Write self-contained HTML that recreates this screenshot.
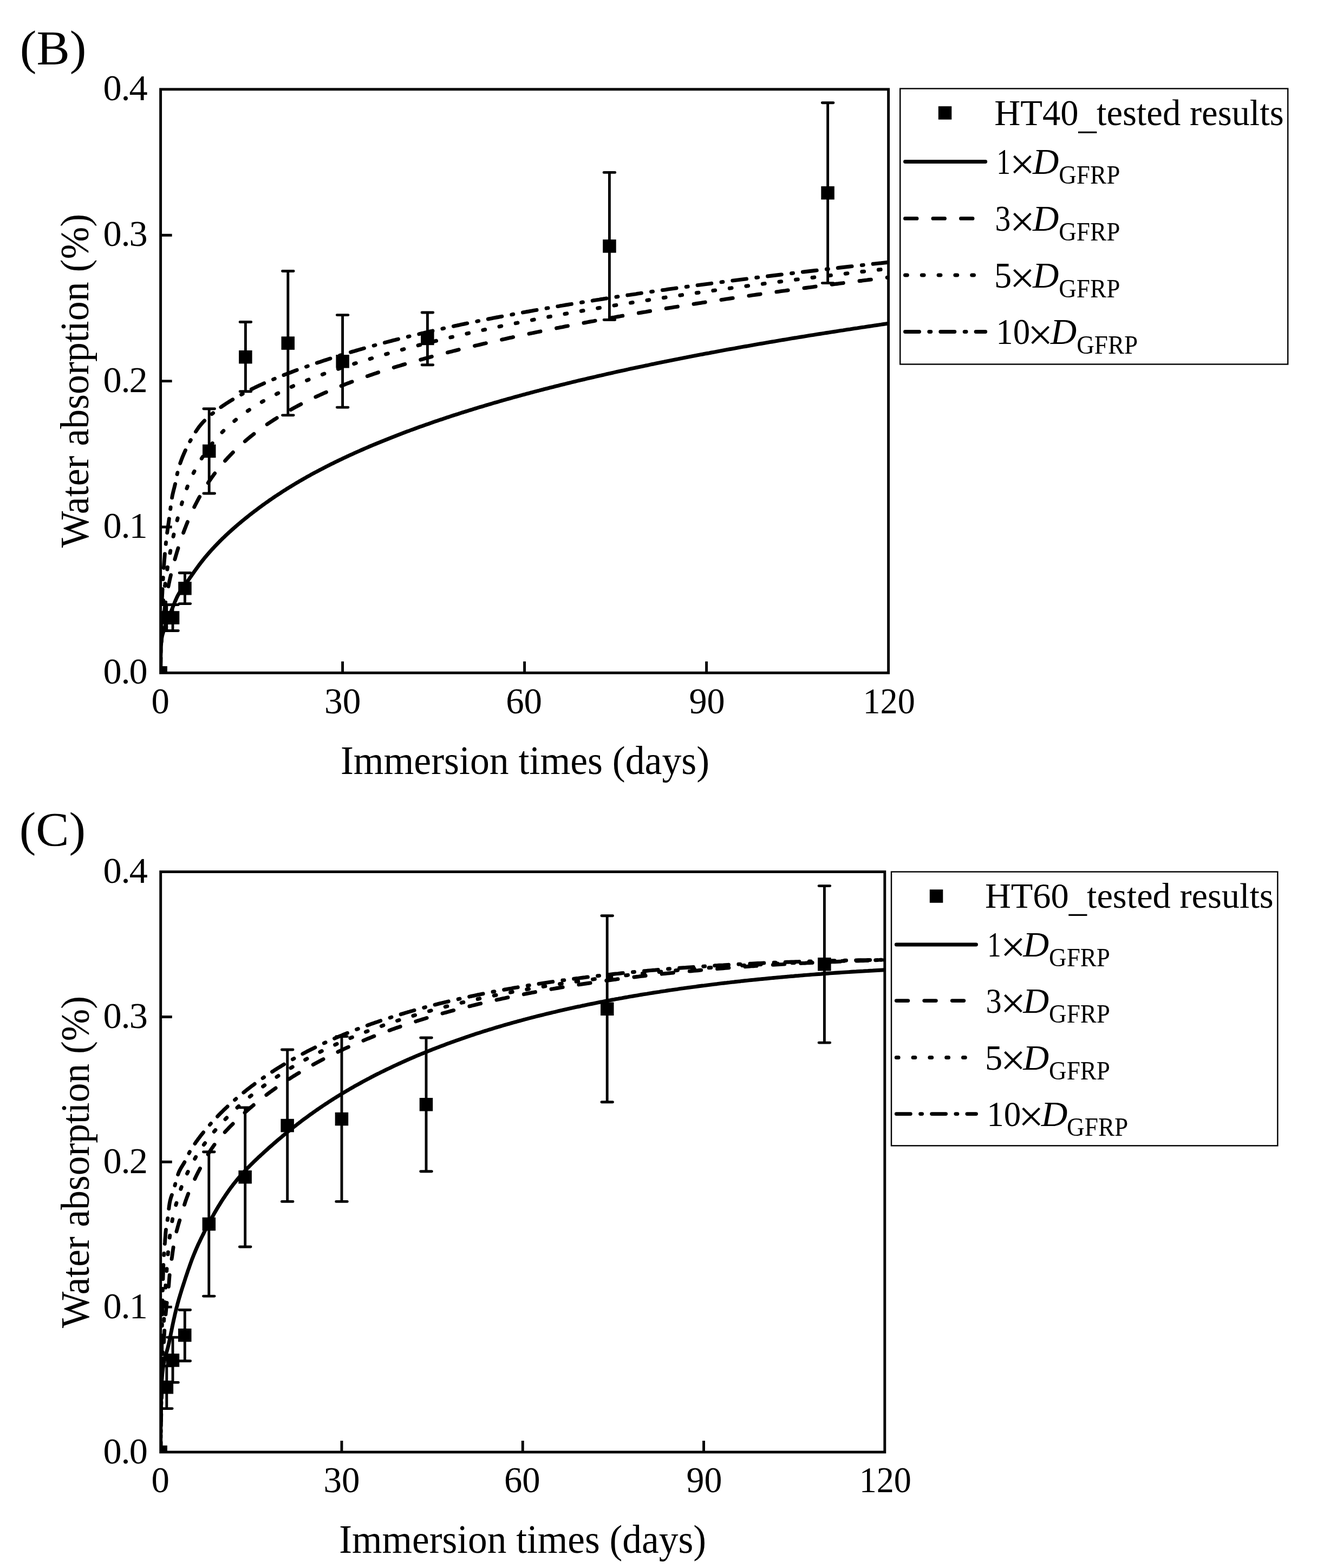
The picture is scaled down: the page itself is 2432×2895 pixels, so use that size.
<!DOCTYPE html>
<html lang="en"><head><meta charset="utf-8"><title>Water absorption vs immersion time</title>
<style>
html,body{margin:0;padding:0;background:#fff;}
body{width:2432px;height:2895px;overflow:hidden;}
svg{display:block;}
svg text{font-family:'Liberation Serif', 'DejaVu Serif', serif;fill:#000;white-space:pre;}
</style></head><body>
<svg width="2432" height="2895" viewBox="0 0 2432 2895">
<rect width="2432" height="2895" fill="#fff"/>
<g id="chartB">
<clipPath id="clipB"><rect x="296.60" y="164.90" width="1344.00" height="1077.40"/></clipPath>
<g clip-path="url(#clipB)" fill="none" stroke="#000" stroke-linecap="round" stroke-linejoin="round">
<path d="M296.6,1242.4 L296.6,1238.3 L296.6,1234.3 L296.6,1230.4 L296.7,1226.5 L296.7,1222.7 L296.7,1219.1 L296.8,1215.6 L296.8,1212.1 L296.9,1208.9 L297.0,1205.7 L297.1,1202.7 L297.1,1199.9 L297.2,1197.2 L297.3,1194.7 L297.4,1192.3 L297.6,1190.1 L297.7,1188.1 L297.8,1186.2 L298.0,1184.5 L298.1,1182.9 L298.3,1181.4 L298.4,1180.0 L298.6,1178.8 L298.8,1177.6 L298.9,1176.6 L299.1,1175.6 L299.3,1174.7 L299.5,1173.9 L299.8,1173.0 L300.0,1172.2 L300.2,1171.4 L300.4,1170.6 L300.7,1169.8 L300.9,1169.0 L301.2,1168.1 L301.5,1167.2 L301.7,1166.3 L302.0,1165.3 L302.3,1164.4 L302.6,1163.4 L302.9,1162.4 L303.2,1161.4 L303.5,1160.4 L303.9,1159.4 L304.2,1158.4 L304.5,1157.4 L304.9,1156.4 L305.2,1155.4 L305.6,1154.4 L306.0,1153.4 L306.3,1152.4 L306.7,1151.4 L307.1,1150.4 L307.5,1149.4 L307.9,1148.3 L308.3,1147.3 L308.8,1146.2 L309.2,1145.2 L309.6,1144.1 L310.1,1143.0 L310.5,1141.9 L311.0,1140.8 L311.5,1139.7 L311.9,1138.5 L312.4,1137.3 L312.9,1136.2 L313.4,1135.0 L313.9,1133.7 L314.4,1132.5 L315.0,1131.2 L315.5,1129.9 L316.0,1128.6 L316.6,1127.3 L317.1,1125.9 L317.7,1124.5 L318.2,1123.1 L318.8,1121.7 L319.4,1120.2 L320.0,1118.7 L320.6,1117.2 L321.2,1115.7 L321.8,1114.2 L322.4,1112.7 L323.0,1111.1 L323.7,1109.6 L324.3,1108.1 L325.0,1106.7 L325.6,1105.2 L326.3,1103.8 L326.9,1102.4 L327.6,1101.0 L328.3,1099.7 L329.0,1098.4 L329.7,1097.1 L330.4,1095.9 L331.1,1094.7 L331.8,1093.6 L332.6,1092.4 L333.3,1091.3 L334.1,1090.2 L334.8,1089.1 L335.6,1088.1 L336.3,1087.0 L337.1,1085.9 L337.9,1084.9 L338.7,1083.8 L339.5,1082.7 L340.3,1081.6 L341.1,1080.5 L341.9,1079.4 L342.8,1078.2 L343.6,1077.1 L344.4,1075.9 L345.3,1074.7 L346.1,1073.5 L347.0,1072.3 L347.9,1071.0 L348.8,1069.8 L349.6,1068.5 L350.5,1067.2 L351.4,1065.9 L352.4,1064.6 L353.3,1063.3 L354.2,1062.0 L355.1,1060.6 L356.1,1059.3 L357.0,1057.9 L358.0,1056.6 L358.9,1055.2 L359.9,1053.8 L360.9,1052.5 L361.9,1051.1 L362.9,1049.7 L363.9,1048.3 L364.9,1047.0 L365.9,1045.6 L366.9,1044.2 L367.9,1042.8 L369.0,1041.5 L370.0,1040.1 L371.1,1038.7 L372.1,1037.4 L373.2,1036.0 L374.3,1034.6 L375.4,1033.3 L376.4,1031.9 L377.5,1030.6 L378.6,1029.2 L379.8,1027.9 L380.9,1026.6 L382.0,1025.2 L383.1,1023.9 L384.3,1022.6 L385.4,1021.3 L386.6,1019.9 L387.8,1018.6 L388.9,1017.3 L390.1,1016.0 L391.3,1014.7 L392.5,1013.4 L393.7,1012.1 L394.9,1010.8 L396.1,1009.5 L397.3,1008.2 L398.6,1006.9 L399.8,1005.6 L401.1,1004.3 L402.3,1003.0 L403.6,1001.7 L404.9,1000.4 L406.1,999.1 L407.4,997.9 L408.7,996.6 L410.0,995.3 L411.3,994.0 L412.6,992.8 L414.0,991.5 L415.3,990.2 L416.6,988.9 L418.0,987.7 L419.3,986.4 L420.7,985.2 L422.0,983.9 L423.4,982.6 L424.8,981.4 L426.2,980.1 L427.6,978.9 L429.0,977.6 L430.4,976.4 L431.8,975.1 L433.3,973.9 L434.7,972.6 L436.1,971.4 L437.6,970.1 L439.0,968.9 L440.5,967.6 L442.0,966.4 L443.5,965.2 L444.9,963.9 L446.4,962.7 L447.9,961.4 L449.4,960.2 L451.0,959.0 L452.5,957.7 L454.0,956.5 L455.6,955.2 L457.1,954.0 L458.7,952.8 L460.2,951.5 L461.8,950.3 L463.4,949.1 L465.0,947.8 L466.5,946.6 L468.1,945.4 L469.8,944.1 L471.4,942.9 L473.0,941.7 L474.6,940.5 L476.3,939.2 L477.9,938.0 L479.5,936.8 L481.2,935.6 L482.9,934.4 L484.5,933.1 L486.2,931.9 L487.9,930.7 L489.6,929.5 L491.3,928.3 L493.0,927.1 L494.8,925.9 L496.5,924.6 L498.2,923.4 L500.0,922.2 L501.7,921.0 L503.5,919.8 L505.2,918.6 L507.0,917.4 L508.8,916.2 L510.6,915.0 L512.4,913.8 L514.2,912.7 L516.0,911.5 L517.8,910.3 L519.6,909.1 L521.4,907.9 L523.3,906.7 L525.1,905.5 L527.0,904.4 L528.8,903.2 L530.7,902.0 L532.6,900.8 L534.5,899.7 L536.4,898.5 L538.3,897.3 L540.2,896.2 L542.1,895.0 L544.0,893.9 L545.9,892.7 L547.9,891.5 L549.8,890.4 L551.8,889.2 L553.7,888.1 L555.7,887.0 L557.7,885.8 L559.6,884.7 L561.6,883.5 L563.6,882.4 L565.6,881.3 L567.7,880.1 L569.7,879.0 L571.7,877.9 L573.7,876.8 L575.8,875.6 L577.8,874.5 L579.9,873.4 L581.9,872.3 L584.0,871.2 L586.1,870.1 L588.2,869.0 L590.3,867.9 L592.4,866.8 L594.5,865.7 L596.6,864.6 L598.7,863.5 L600.9,862.4 L603.0,861.3 L605.1,860.2 L607.3,859.1 L609.5,858.0 L611.6,856.9 L613.8,855.9 L616.0,854.8 L618.2,853.7 L620.4,852.6 L622.6,851.5 L624.8,850.5 L627.0,849.4 L629.2,848.3 L631.5,847.3 L633.7,846.2 L636.0,845.2 L638.2,844.1 L640.5,843.0 L642.8,842.0 L645.1,840.9 L647.3,839.9 L649.6,838.8 L651.9,837.8 L654.3,836.7 L656.6,835.7 L658.9,834.6 L661.2,833.6 L663.6,832.6 L665.9,831.5 L668.3,830.5 L670.6,829.5 L673.0,828.4 L675.4,827.4 L677.8,826.4 L680.2,825.3 L682.6,824.3 L685.0,823.3 L687.4,822.3 L689.8,821.2 L692.3,820.2 L694.7,819.2 L697.1,818.2 L699.6,817.2 L702.1,816.2 L704.5,815.2 L707.0,814.2 L709.5,813.2 L712.0,812.2 L714.5,811.2 L717.0,810.2 L719.5,809.2 L722.0,808.2 L724.5,807.2 L727.1,806.2 L729.6,805.2 L732.2,804.2 L734.7,803.2 L737.3,802.2 L739.9,801.2 L742.4,800.3 L745.0,799.3 L747.6,798.3 L750.2,797.3 L752.8,796.3 L755.5,795.4 L758.1,794.4 L760.7,793.4 L763.4,792.5 L766.0,791.5 L768.7,790.5 L771.3,789.6 L774.0,788.6 L776.7,787.6 L779.4,786.7 L782.1,785.7 L784.8,784.8 L787.5,783.8 L790.2,782.9 L792.9,781.9 L795.6,781.0 L798.4,780.0 L801.1,779.1 L803.9,778.1 L806.6,777.2 L809.4,776.2 L812.2,775.3 L815.0,774.4 L817.8,773.4 L820.5,772.5 L823.4,771.6 L826.2,770.6 L829.0,769.7 L831.8,768.8 L834.7,767.8 L837.5,766.9 L840.3,766.0 L843.2,765.1 L846.1,764.2 L848.9,763.2 L851.8,762.3 L854.7,761.4 L857.6,760.5 L860.5,759.6 L863.4,758.7 L866.3,757.8 L869.3,756.9 L872.2,756.0 L875.1,755.0 L878.1,754.1 L881.0,753.2 L884.0,752.3 L887.0,751.4 L890.0,750.6 L892.9,749.7 L895.9,748.8 L898.9,747.9 L901.9,747.0 L905.0,746.1 L908.0,745.2 L911.0,744.3 L914.0,743.4 L917.1,742.6 L920.1,741.7 L923.2,740.8 L926.3,739.9 L929.3,739.0 L932.4,738.2 L935.5,737.3 L938.6,736.4 L941.7,735.6 L944.8,734.7 L948.0,733.8 L951.1,732.9 L954.2,732.1 L957.4,731.2 L960.5,730.4 L963.7,729.5 L966.8,728.6 L970.0,727.8 L973.2,726.9 L976.4,726.1 L979.6,725.2 L982.8,724.4 L986.0,723.5 L989.2,722.7 L992.4,721.8 L995.7,721.0 L998.9,720.1 L1002.1,719.3 L1005.4,718.4 L1008.7,717.6 L1011.9,716.8 L1015.2,715.9 L1018.5,715.1 L1021.8,714.3 L1025.1,713.4 L1028.4,712.6 L1031.7,711.8 L1035.0,710.9 L1038.4,710.1 L1041.7,709.3 L1045.0,708.5 L1048.4,707.6 L1051.8,706.8 L1055.1,706.0 L1058.5,705.2 L1061.9,704.4 L1065.3,703.5 L1068.7,702.7 L1072.1,701.9 L1075.5,701.1 L1078.9,700.3 L1082.3,699.5 L1085.8,698.7 L1089.2,697.9 L1092.7,697.1 L1096.1,696.3 L1099.6,695.5 L1103.1,694.6 L1106.5,693.8 L1110.0,693.1 L1113.5,692.3 L1117.0,691.5 L1120.5,690.7 L1124.0,689.9 L1127.6,689.1 L1131.1,688.3 L1134.6,687.5 L1138.2,686.7 L1141.7,685.9 L1145.3,685.1 L1148.9,684.3 L1152.5,683.6 L1156.0,682.8 L1159.6,682.0 L1163.2,681.2 L1166.8,680.4 L1170.5,679.7 L1174.1,678.9 L1177.7,678.1 L1181.3,677.3 L1185.0,676.6 L1188.6,675.8 L1192.3,675.0 L1196.0,674.3 L1199.6,673.5 L1203.3,672.7 L1207.0,672.0 L1210.7,671.2 L1214.4,670.4 L1218.1,669.7 L1221.8,668.9 L1225.6,668.2 L1229.3,667.4 L1233.1,666.6 L1236.8,665.9 L1240.6,665.1 L1244.3,664.4 L1248.1,663.6 L1251.9,662.9 L1255.7,662.1 L1259.5,661.4 L1263.3,660.6 L1267.1,659.9 L1270.9,659.1 L1274.7,658.4 L1278.5,657.7 L1282.4,656.9 L1286.2,656.2 L1290.1,655.4 L1293.9,654.7 L1297.8,654.0 L1301.7,653.2 L1305.6,652.5 L1309.5,651.8 L1313.4,651.0 L1317.3,650.3 L1321.2,649.6 L1325.1,648.8 L1329.0,648.1 L1333.0,647.4 L1336.9,646.7 L1340.9,645.9 L1344.8,645.2 L1348.8,644.5 L1352.8,643.8 L1356.8,643.1 L1360.7,642.3 L1364.7,641.6 L1368.7,640.9 L1372.8,640.2 L1376.8,639.5 L1380.8,638.8 L1384.8,638.1 L1388.9,637.3 L1392.9,636.6 L1397.0,635.9 L1401.0,635.2 L1405.1,634.5 L1409.2,633.8 L1413.3,633.1 L1417.4,632.4 L1421.5,631.7 L1425.6,631.0 L1429.7,630.3 L1433.8,629.6 L1438.0,628.9 L1442.1,628.2 L1446.2,627.5 L1450.4,626.8 L1454.6,626.1 L1458.7,625.4 L1462.9,624.7 L1467.1,624.0 L1471.3,623.4 L1475.5,622.7 L1479.7,622.0 L1483.9,621.3 L1488.1,620.6 L1492.4,619.9 L1496.6,619.2 L1500.8,618.6 L1505.1,617.9 L1509.3,617.2 L1513.6,616.5 L1517.9,615.8 L1522.2,615.2 L1526.5,614.5 L1530.8,613.8 L1535.1,613.1 L1539.4,612.5 L1543.7,611.8 L1548.0,611.1 L1552.3,610.4 L1556.7,609.8 L1561.0,609.1 L1565.4,608.4 L1569.8,607.8 L1574.1,607.1 L1578.5,606.4 L1582.9,605.8 L1587.3,605.1 L1591.7,604.4 L1596.1,603.8 L1600.5,603.1 L1604.9,602.5 L1609.4,601.8 L1613.8,601.1 L1618.3,600.5 L1622.7,599.8 L1627.2,599.2 L1631.6,598.5 L1636.1,597.9 L1640.6,597.2" stroke-width="6.9"/>
<path d="M296.6,1242.3 L296.6,1236.9 L296.6,1231.6 L296.6,1226.3 L296.7,1220.9 L296.7,1215.6 L296.7,1210.3 L296.8,1205.0 L296.8,1199.8 L296.9,1194.5 L297.0,1189.3 L297.1,1184.1 L297.1,1178.9 L297.2,1173.7 L297.3,1168.6 L297.4,1163.5 L297.6,1158.4 L297.7,1153.3 L297.8,1148.2 L298.0,1143.2 L298.1,1138.2 L298.3,1133.3 L298.4,1128.3 L298.6,1123.4 L298.8,1118.6 L298.9,1113.7 L299.1,1108.9 L299.3,1104.2 L299.5,1099.5 L299.8,1094.8 L300.0,1090.1 L300.2,1085.5 L300.4,1080.9 L300.7,1076.4 L300.9,1071.9 L301.2,1067.5 L301.5,1063.1 L301.7,1058.8 L302.0,1054.5 L302.3,1050.2 L302.6,1046.0 L302.9,1041.9 L303.2,1037.8 L303.5,1033.7 L303.9,1029.7 L304.2,1025.8 L304.5,1021.9 L304.9,1018.0 L305.2,1014.3 L305.6,1010.6 L306.0,1006.9 L306.3,1003.3 L306.7,999.8 L307.1,996.3 L307.5,992.9 L307.9,989.6 L308.3,986.3 L308.8,983.1 L309.2,979.9 L309.6,976.8 L310.1,973.7 L310.5,970.6 L311.0,967.4 L311.5,964.1 L311.9,960.7 L312.4,957.2 L312.9,953.5 L313.4,949.6 L313.9,945.6 L314.4,941.5 L315.0,937.4 L315.5,933.3 L316.0,929.3 L316.6,925.5 L317.1,921.9 L317.7,918.5 L318.2,915.5 L318.8,912.7 L319.4,910.1 L320.0,907.6 L320.6,905.2 L321.2,902.9 L321.8,900.6 L322.4,898.1 L323.0,895.6 L323.7,892.8 L324.3,889.9 L325.0,886.7 L325.6,883.3 L326.3,880.0 L326.9,876.6 L327.6,873.5 L328.3,870.5 L329.0,867.7 L329.7,865.1 L330.4,862.6 L331.1,860.3 L331.8,858.0 L332.6,855.8 L333.3,853.7 L334.1,851.6 L334.8,849.6 L335.6,847.5 L336.3,845.6 L337.1,843.6 L337.9,841.7 L338.7,839.8 L339.5,837.9 L340.3,836.1 L341.1,834.3 L341.9,832.5 L342.8,830.7 L343.6,829.0 L344.4,827.2 L345.3,825.5 L346.1,823.8 L347.0,822.1 L347.9,820.4 L348.8,818.8 L349.6,817.1 L350.5,815.5 L351.4,813.8 L352.4,812.2 L353.3,810.5 L354.2,808.9 L355.1,807.2 L356.1,805.6 L357.0,804.0 L358.0,802.4 L358.9,800.9 L359.9,799.3 L360.9,797.8 L361.9,796.3 L362.9,794.8 L363.9,793.3 L364.9,791.9 L365.9,790.5 L366.9,789.1 L367.9,787.7 L369.0,786.4 L370.0,785.1 L371.1,783.9 L372.1,782.6 L373.2,781.4 L374.3,780.2 L375.4,779.0 L376.4,777.9 L377.5,776.8 L378.6,775.7 L379.8,774.6 L380.9,773.5 L382.0,772.4 L383.1,771.4 L384.3,770.4 L385.4,769.3 L386.6,768.3 L387.8,767.3 L388.9,766.4 L390.1,765.4 L391.3,764.4 L392.5,763.4 L393.7,762.5 L394.9,761.5 L396.1,760.5 L397.3,759.6 L398.6,758.6 L399.8,757.7 L401.1,756.8 L402.3,755.8 L403.6,754.9 L404.9,754.0 L406.1,753.1 L407.4,752.1 L408.7,751.2 L410.0,750.3 L411.3,749.4 L412.6,748.5 L414.0,747.6 L415.3,746.7 L416.6,745.8 L418.0,744.9 L419.3,744.1 L420.7,743.2 L422.0,742.3 L423.4,741.4 L424.8,740.6 L426.2,739.7 L427.6,738.9 L429.0,738.0 L430.4,737.1 L431.8,736.3 L433.3,735.4 L434.7,734.6 L436.1,733.8 L437.6,732.9 L439.0,732.1 L440.5,731.3 L442.0,730.4 L443.5,729.6 L444.9,728.8 L446.4,728.0 L447.9,727.2 L449.4,726.3 L451.0,725.5 L452.5,724.7 L454.0,723.9 L455.6,723.1 L457.1,722.3 L458.7,721.5 L460.2,720.7 L461.8,719.9 L463.4,719.1 L465.0,718.4 L466.5,717.6 L468.1,716.8 L469.8,716.0 L471.4,715.2 L473.0,714.5 L474.6,713.7 L476.3,712.9 L477.9,712.2 L479.5,711.4 L481.2,710.6 L482.9,709.9 L484.5,709.1 L486.2,708.3 L487.9,707.6 L489.6,706.8 L491.3,706.1 L493.0,705.3 L494.8,704.6 L496.5,703.8 L498.2,703.1 L500.0,702.3 L501.7,701.6 L503.5,700.8 L505.2,700.1 L507.0,699.4 L508.8,698.6 L510.6,697.9 L512.4,697.1 L514.2,696.4 L516.0,695.7 L517.8,694.9 L519.6,694.2 L521.4,693.5 L523.3,692.8 L525.1,692.0 L527.0,691.3 L528.8,690.6 L530.7,689.8 L532.6,689.1 L534.5,688.4 L536.4,687.7 L538.3,687.0 L540.2,686.2 L542.1,685.5 L544.0,684.8 L545.9,684.1 L547.9,683.3 L549.8,682.6 L551.8,681.9 L553.7,681.2 L555.7,680.5 L557.7,679.8 L559.6,679.0 L561.6,678.3 L563.6,677.6 L565.6,676.9 L567.7,676.2 L569.7,675.5 L571.7,674.8 L573.7,674.0 L575.8,673.3 L577.8,672.6 L579.9,671.9 L581.9,671.2 L584.0,670.5 L586.1,669.8 L588.2,669.1 L590.3,668.4 L592.4,667.7 L594.5,667.0 L596.6,666.3 L598.7,665.6 L600.9,664.9 L603.0,664.2 L605.1,663.5 L607.3,662.8 L609.5,662.1 L611.6,661.4 L613.8,660.7 L616.0,660.0 L618.2,659.3 L620.4,658.6 L622.6,657.9 L624.8,657.2 L627.0,656.5 L629.2,655.8 L631.5,655.1 L633.7,654.4 L636.0,653.7 L638.2,653.1 L640.5,652.4 L642.8,651.7 L645.1,651.0 L647.3,650.3 L649.6,649.6 L651.9,648.9 L654.3,648.3 L656.6,647.6 L658.9,646.9 L661.2,646.2 L663.6,645.5 L665.9,644.9 L668.3,644.2 L670.6,643.5 L673.0,642.8 L675.4,642.2 L677.8,641.5 L680.2,640.8 L682.6,640.2 L685.0,639.5 L687.4,638.8 L689.8,638.1 L692.3,637.5 L694.7,636.8 L697.1,636.2 L699.6,635.5 L702.1,634.8 L704.5,634.2 L707.0,633.5 L709.5,632.8 L712.0,632.2 L714.5,631.5 L717.0,630.9 L719.5,630.2 L722.0,629.6 L724.5,628.9 L727.1,628.2 L729.6,627.6 L732.2,626.9 L734.7,626.3 L737.3,625.6 L739.9,625.0 L742.4,624.3 L745.0,623.7 L747.6,623.1 L750.2,622.4 L752.8,621.8 L755.5,621.1 L758.1,620.5 L760.7,619.8 L763.4,619.2 L766.0,618.6 L768.7,617.9 L771.3,617.3 L774.0,616.7 L776.7,616.0 L779.4,615.4 L782.1,614.8 L784.8,614.1 L787.5,613.5 L790.2,612.9 L792.9,612.2 L795.6,611.6 L798.4,611.0 L801.1,610.4 L803.9,609.7 L806.6,609.1 L809.4,608.5 L812.2,607.9 L815.0,607.2 L817.8,606.6 L820.5,606.0 L823.4,605.4 L826.2,604.8 L829.0,604.1 L831.8,603.5 L834.7,602.9 L837.5,602.3 L840.3,601.7 L843.2,601.1 L846.1,600.5 L848.9,599.9 L851.8,599.2 L854.7,598.6 L857.6,598.0 L860.5,597.4 L863.4,596.8 L866.3,596.2 L869.3,595.6 L872.2,595.0 L875.1,594.4 L878.1,593.8 L881.0,593.2 L884.0,592.6 L887.0,592.0 L890.0,591.4 L892.9,590.8 L895.9,590.2 L898.9,589.6 L901.9,589.0 L905.0,588.4 L908.0,587.8 L911.0,587.2 L914.0,586.6 L917.1,586.0 L920.1,585.5 L923.2,584.9 L926.3,584.3 L929.3,583.7 L932.4,583.1 L935.5,582.5 L938.6,581.9 L941.7,581.3 L944.8,580.8 L948.0,580.2 L951.1,579.6 L954.2,579.0 L957.4,578.4 L960.5,577.9 L963.7,577.3 L966.8,576.7 L970.0,576.1 L973.2,575.5 L976.4,575.0 L979.6,574.4 L982.8,573.8 L986.0,573.2 L989.2,572.7 L992.4,572.1 L995.7,571.5 L998.9,571.0 L1002.1,570.4 L1005.4,569.8 L1008.7,569.2 L1011.9,568.7 L1015.2,568.1 L1018.5,567.5 L1021.8,567.0 L1025.1,566.4 L1028.4,565.8 L1031.7,565.3 L1035.0,564.7 L1038.4,564.2 L1041.7,563.6 L1045.0,563.0 L1048.4,562.5 L1051.8,561.9 L1055.1,561.4 L1058.5,560.8 L1061.9,560.2 L1065.3,559.7 L1068.7,559.1 L1072.1,558.6 L1075.5,558.0 L1078.9,557.5 L1082.3,556.9 L1085.8,556.4 L1089.2,555.8 L1092.7,555.3 L1096.1,554.7 L1099.6,554.2 L1103.1,553.6 L1106.5,553.1 L1110.0,552.5 L1113.5,552.0 L1117.0,551.4 L1120.5,550.9 L1124.0,550.3 L1127.6,549.8 L1131.1,549.2 L1134.6,548.7 L1138.2,548.1 L1141.7,547.6 L1145.3,547.1 L1148.9,546.5 L1152.5,546.0 L1156.0,545.4 L1159.6,544.9 L1163.2,544.4 L1166.8,543.8 L1170.5,543.3 L1174.1,542.8 L1177.7,542.2 L1181.3,541.7 L1185.0,541.1 L1188.6,540.6 L1192.3,540.1 L1196.0,539.5 L1199.6,539.0 L1203.3,538.5 L1207.0,537.9 L1210.7,537.4 L1214.4,536.9 L1218.1,536.4 L1221.8,535.8 L1225.6,535.3 L1229.3,534.8 L1233.1,534.2 L1236.8,533.7 L1240.6,533.2 L1244.3,532.7 L1248.1,532.1 L1251.9,531.6 L1255.7,531.1 L1259.5,530.6 L1263.3,530.0 L1267.1,529.5 L1270.9,529.0 L1274.7,528.5 L1278.5,527.9 L1282.4,527.4 L1286.2,526.9 L1290.1,526.4 L1293.9,525.9 L1297.8,525.3 L1301.7,524.8 L1305.6,524.3 L1309.5,523.8 L1313.4,523.3 L1317.3,522.8 L1321.2,522.2 L1325.1,521.7 L1329.0,521.2 L1333.0,520.7 L1336.9,520.2 L1340.9,519.7 L1344.8,519.2 L1348.8,518.6 L1352.8,518.1 L1356.8,517.6 L1360.7,517.1 L1364.7,516.6 L1368.7,516.1 L1372.8,515.6 L1376.8,515.1 L1380.8,514.6 L1384.8,514.0 L1388.9,513.5 L1392.9,513.0 L1397.0,512.5 L1401.0,512.0 L1405.1,511.5 L1409.2,511.0 L1413.3,510.5 L1417.4,510.0 L1421.5,509.5 L1425.6,509.0 L1429.7,508.5 L1433.8,508.0 L1438.0,507.5 L1442.1,507.0 L1446.2,506.5 L1450.4,506.0 L1454.6,505.5 L1458.7,505.0 L1462.9,504.5 L1467.1,504.0 L1471.3,503.5 L1475.5,503.0 L1479.7,502.5 L1483.9,502.0 L1488.1,501.5 L1492.4,501.0 L1496.6,500.5 L1500.8,500.0 L1505.1,499.5 L1509.3,499.0 L1513.6,498.5 L1517.9,498.0 L1522.2,497.5 L1526.5,497.0 L1530.8,496.5 L1535.1,496.0 L1539.4,495.5 L1543.7,495.0 L1548.0,494.5 L1552.3,494.0 L1556.7,493.5 L1561.0,493.0 L1565.4,492.5 L1569.8,492.0 L1574.1,491.5 L1578.5,491.1 L1582.9,490.6 L1587.3,490.1 L1591.7,489.6 L1596.1,489.1 L1600.5,488.6 L1604.9,488.1 L1609.4,487.6 L1613.8,487.1 L1618.3,486.6 L1622.7,486.1 L1627.2,485.7 L1631.6,485.2 L1636.1,484.7 L1640.6,484.2" stroke-width="6.9" stroke-dasharray="26 18.3 3 18" stroke-dashoffset="2"/>
<path d="M296.6,1242.3 L296.6,1237.6 L296.6,1233.1 L296.6,1228.5 L296.7,1224.1 L296.7,1219.7 L296.7,1215.4 L296.8,1211.2 L296.8,1207.0 L296.9,1202.9 L297.0,1198.8 L297.1,1194.8 L297.1,1190.9 L297.2,1187.0 L297.3,1183.2 L297.4,1179.4 L297.6,1175.7 L297.7,1172.0 L297.8,1168.4 L298.0,1164.8 L298.1,1161.3 L298.3,1157.8 L298.4,1154.4 L298.6,1151.0 L298.8,1147.7 L298.9,1144.4 L299.1,1141.1 L299.3,1137.9 L299.5,1134.7 L299.8,1131.6 L300.0,1128.4 L300.2,1125.3 L300.4,1122.3 L300.7,1119.3 L300.9,1116.3 L301.2,1113.3 L301.5,1110.3 L301.7,1107.4 L302.0,1104.5 L302.3,1101.6 L302.6,1098.8 L302.9,1095.9 L303.2,1093.1 L303.5,1090.3 L303.9,1087.5 L304.2,1084.7 L304.5,1081.9 L304.9,1079.2 L305.2,1076.4 L305.6,1073.7 L306.0,1070.9 L306.3,1068.2 L306.7,1065.5 L307.1,1062.7 L307.5,1060.0 L307.9,1057.3 L308.3,1054.5 L308.8,1051.8 L309.2,1049.1 L309.6,1046.3 L310.1,1043.6 L310.5,1040.8 L311.0,1038.1 L311.5,1035.3 L311.9,1032.5 L312.4,1029.8 L312.9,1027.0 L313.4,1024.2 L313.9,1021.4 L314.4,1018.6 L315.0,1015.9 L315.5,1013.1 L316.0,1010.3 L316.6,1007.5 L317.1,1004.7 L317.7,1002.0 L318.2,999.2 L318.8,996.5 L319.4,993.7 L320.0,991.0 L320.6,988.3 L321.2,985.6 L321.8,982.9 L322.4,980.2 L323.0,977.5 L323.7,974.9 L324.3,972.2 L325.0,969.5 L325.6,966.9 L326.3,964.2 L326.9,961.6 L327.6,958.9 L328.3,956.3 L329.0,953.6 L329.7,951.0 L330.4,948.3 L331.1,945.7 L331.8,943.1 L332.6,940.4 L333.3,937.8 L334.1,935.2 L334.8,932.6 L335.6,930.0 L336.3,927.5 L337.1,924.9 L337.9,922.4 L338.7,919.9 L339.5,917.4 L340.3,914.9 L341.1,912.5 L341.9,910.0 L342.8,907.7 L343.6,905.3 L344.4,903.0 L345.3,900.7 L346.1,898.5 L347.0,896.3 L347.9,894.1 L348.8,892.0 L349.6,889.9 L350.5,887.8 L351.4,885.7 L352.4,883.7 L353.3,881.7 L354.2,879.7 L355.1,877.7 L356.1,875.8 L357.0,873.9 L358.0,872.0 L358.9,870.1 L359.9,868.2 L360.9,866.4 L361.9,864.5 L362.9,862.7 L363.9,860.9 L364.9,859.1 L365.9,857.3 L366.9,855.5 L367.9,853.8 L369.0,852.0 L370.0,850.3 L371.1,848.6 L372.1,846.9 L373.2,845.2 L374.3,843.5 L375.4,841.8 L376.4,840.1 L377.5,838.5 L378.6,836.8 L379.8,835.2 L380.9,833.5 L382.0,831.9 L383.1,830.3 L384.3,828.8 L385.4,827.2 L386.6,825.6 L387.8,824.1 L388.9,822.5 L390.1,821.0 L391.3,819.5 L392.5,818.0 L393.7,816.5 L394.9,815.0 L396.1,813.6 L397.3,812.1 L398.6,810.7 L399.8,809.3 L401.1,807.8 L402.3,806.4 L403.6,805.0 L404.9,803.7 L406.1,802.3 L407.4,800.9 L408.7,799.6 L410.0,798.2 L411.3,796.9 L412.6,795.6 L414.0,794.3 L415.3,793.0 L416.6,791.7 L418.0,790.4 L419.3,789.1 L420.7,787.9 L422.0,786.6 L423.4,785.4 L424.8,784.1 L426.2,782.9 L427.6,781.7 L429.0,780.5 L430.4,779.3 L431.8,778.1 L433.3,776.9 L434.7,775.7 L436.1,774.6 L437.6,773.4 L439.0,772.2 L440.5,771.1 L442.0,769.9 L443.5,768.8 L444.9,767.7 L446.4,766.6 L447.9,765.5 L449.4,764.4 L451.0,763.3 L452.5,762.2 L454.0,761.1 L455.6,760.0 L457.1,758.9 L458.7,757.8 L460.2,756.8 L461.8,755.7 L463.4,754.7 L465.0,753.6 L466.5,752.6 L468.1,751.6 L469.8,750.5 L471.4,749.5 L473.0,748.5 L474.6,747.5 L476.3,746.5 L477.9,745.5 L479.5,744.5 L481.2,743.5 L482.9,742.5 L484.5,741.5 L486.2,740.5 L487.9,739.6 L489.6,738.6 L491.3,737.6 L493.0,736.7 L494.8,735.7 L496.5,734.8 L498.2,733.8 L500.0,732.9 L501.7,732.0 L503.5,731.0 L505.2,730.1 L507.0,729.2 L508.8,728.3 L510.6,727.4 L512.4,726.5 L514.2,725.6 L516.0,724.7 L517.8,723.8 L519.6,722.9 L521.4,722.0 L523.3,721.1 L525.1,720.3 L527.0,719.4 L528.8,718.5 L530.7,717.6 L532.6,716.8 L534.5,715.9 L536.4,715.1 L538.3,714.2 L540.2,713.4 L542.1,712.5 L544.0,711.7 L545.9,710.9 L547.9,710.0 L549.8,709.2 L551.8,708.4 L553.7,707.5 L555.7,706.7 L557.7,705.9 L559.6,705.1 L561.6,704.3 L563.6,703.5 L565.6,702.7 L567.7,701.9 L569.7,701.1 L571.7,700.3 L573.7,699.5 L575.8,698.7 L577.8,697.9 L579.9,697.1 L581.9,696.3 L584.0,695.5 L586.1,694.7 L588.2,694.0 L590.3,693.2 L592.4,692.4 L594.5,691.6 L596.6,690.9 L598.7,690.1 L600.9,689.3 L603.0,688.6 L605.1,687.8 L607.3,687.1 L609.5,686.3 L611.6,685.5 L613.8,684.8 L616.0,684.0 L618.2,683.3 L620.4,682.5 L622.6,681.8 L624.8,681.0 L627.0,680.3 L629.2,679.6 L631.5,678.8 L633.7,678.1 L636.0,677.3 L638.2,676.6 L640.5,675.8 L642.8,675.1 L645.1,674.4 L647.3,673.6 L649.6,672.9 L651.9,672.2 L654.3,671.4 L656.6,670.7 L658.9,670.0 L661.2,669.2 L663.6,668.5 L665.9,667.8 L668.3,667.1 L670.6,666.3 L673.0,665.6 L675.4,664.9 L677.8,664.2 L680.2,663.4 L682.6,662.7 L685.0,662.0 L687.4,661.3 L689.8,660.5 L692.3,659.8 L694.7,659.1 L697.1,658.4 L699.6,657.7 L702.1,656.9 L704.5,656.2 L707.0,655.5 L709.5,654.8 L712.0,654.1 L714.5,653.4 L717.0,652.7 L719.5,651.9 L722.0,651.2 L724.5,650.5 L727.1,649.8 L729.6,649.1 L732.2,648.4 L734.7,647.7 L737.3,647.0 L739.9,646.3 L742.4,645.6 L745.0,644.9 L747.6,644.2 L750.2,643.5 L752.8,642.8 L755.5,642.1 L758.1,641.4 L760.7,640.7 L763.4,640.0 L766.0,639.3 L768.7,638.6 L771.3,637.9 L774.0,637.2 L776.7,636.5 L779.4,635.8 L782.1,635.2 L784.8,634.5 L787.5,633.8 L790.2,633.1 L792.9,632.4 L795.6,631.7 L798.4,631.0 L801.1,630.4 L803.9,629.7 L806.6,629.0 L809.4,628.3 L812.2,627.6 L815.0,627.0 L817.8,626.3 L820.5,625.6 L823.4,624.9 L826.2,624.3 L829.0,623.6 L831.8,622.9 L834.7,622.3 L837.5,621.6 L840.3,620.9 L843.2,620.3 L846.1,619.6 L848.9,618.9 L851.8,618.3 L854.7,617.6 L857.6,616.9 L860.5,616.3 L863.4,615.6 L866.3,615.0 L869.3,614.3 L872.2,613.7 L875.1,613.0 L878.1,612.3 L881.0,611.7 L884.0,611.0 L887.0,610.4 L890.0,609.7 L892.9,609.1 L895.9,608.5 L898.9,607.8 L901.9,607.2 L905.0,606.5 L908.0,605.9 L911.0,605.2 L914.0,604.6 L917.1,604.0 L920.1,603.3 L923.2,602.7 L926.3,602.0 L929.3,601.4 L932.4,600.8 L935.5,600.1 L938.6,599.5 L941.7,598.9 L944.8,598.2 L948.0,597.6 L951.1,597.0 L954.2,596.4 L957.4,595.7 L960.5,595.1 L963.7,594.5 L966.8,593.9 L970.0,593.2 L973.2,592.6 L976.4,592.0 L979.6,591.4 L982.8,590.8 L986.0,590.1 L989.2,589.5 L992.4,588.9 L995.7,588.3 L998.9,587.7 L1002.1,587.1 L1005.4,586.5 L1008.7,585.9 L1011.9,585.2 L1015.2,584.6 L1018.5,584.0 L1021.8,583.4 L1025.1,582.8 L1028.4,582.2 L1031.7,581.6 L1035.0,581.0 L1038.4,580.4 L1041.7,579.8 L1045.0,579.2 L1048.4,578.6 L1051.8,578.0 L1055.1,577.4 L1058.5,576.8 L1061.9,576.2 L1065.3,575.6 L1068.7,575.0 L1072.1,574.4 L1075.5,573.8 L1078.9,573.2 L1082.3,572.6 L1085.8,572.1 L1089.2,571.5 L1092.7,570.9 L1096.1,570.3 L1099.6,569.7 L1103.1,569.1 L1106.5,568.5 L1110.0,567.9 L1113.5,567.4 L1117.0,566.8 L1120.5,566.2 L1124.0,565.6 L1127.6,565.0 L1131.1,564.5 L1134.6,563.9 L1138.2,563.3 L1141.7,562.7 L1145.3,562.1 L1148.9,561.6 L1152.5,561.0 L1156.0,560.4 L1159.6,559.8 L1163.2,559.3 L1166.8,558.7 L1170.5,558.1 L1174.1,557.6 L1177.7,557.0 L1181.3,556.4 L1185.0,555.9 L1188.6,555.3 L1192.3,554.7 L1196.0,554.2 L1199.6,553.6 L1203.3,553.0 L1207.0,552.5 L1210.7,551.9 L1214.4,551.3 L1218.1,550.8 L1221.8,550.2 L1225.6,549.7 L1229.3,549.1 L1233.1,548.5 L1236.8,548.0 L1240.6,547.4 L1244.3,546.9 L1248.1,546.3 L1251.9,545.7 L1255.7,545.2 L1259.5,544.6 L1263.3,544.1 L1267.1,543.5 L1270.9,543.0 L1274.7,542.4 L1278.5,541.9 L1282.4,541.3 L1286.2,540.8 L1290.1,540.2 L1293.9,539.7 L1297.8,539.1 L1301.7,538.6 L1305.6,538.0 L1309.5,537.5 L1313.4,536.9 L1317.3,536.4 L1321.2,535.9 L1325.1,535.3 L1329.0,534.8 L1333.0,534.2 L1336.9,533.7 L1340.9,533.1 L1344.8,532.6 L1348.8,532.1 L1352.8,531.5 L1356.8,531.0 L1360.7,530.4 L1364.7,529.9 L1368.7,529.4 L1372.8,528.8 L1376.8,528.3 L1380.8,527.8 L1384.8,527.2 L1388.9,526.7 L1392.9,526.2 L1397.0,525.6 L1401.0,525.1 L1405.1,524.6 L1409.2,524.0 L1413.3,523.5 L1417.4,523.0 L1421.5,522.4 L1425.6,521.9 L1429.7,521.4 L1433.8,520.8 L1438.0,520.3 L1442.1,519.8 L1446.2,519.3 L1450.4,518.7 L1454.6,518.2 L1458.7,517.7 L1462.9,517.2 L1467.1,516.6 L1471.3,516.1 L1475.5,515.6 L1479.7,515.1 L1483.9,514.5 L1488.1,514.0 L1492.4,513.5 L1496.6,513.0 L1500.8,512.4 L1505.1,511.9 L1509.3,511.4 L1513.6,510.9 L1517.9,510.4 L1522.2,509.8 L1526.5,509.3 L1530.8,508.8 L1535.1,508.3 L1539.4,507.8 L1543.7,507.3 L1548.0,506.7 L1552.3,506.2 L1556.7,505.7 L1561.0,505.2 L1565.4,504.7 L1569.8,504.2 L1574.1,503.6 L1578.5,503.1 L1582.9,502.6 L1587.3,502.1 L1591.7,501.6 L1596.1,501.1 L1600.5,500.6 L1604.9,500.1 L1609.4,499.5 L1613.8,499.0 L1618.3,498.5 L1622.7,498.0 L1627.2,497.5 L1631.6,497.0 L1636.1,496.5 L1640.6,496.0" stroke-width="7.0" stroke-dasharray="3.8 27" stroke-dashoffset="-7"/>
<path d="M296.6,1242.3 L296.6,1239.4 L296.6,1236.5 L296.6,1233.6 L296.7,1230.7 L296.7,1227.9 L296.7,1225.0 L296.8,1222.2 L296.8,1219.4 L296.9,1216.5 L297.0,1213.7 L297.1,1211.0 L297.1,1208.2 L297.2,1205.4 L297.3,1202.7 L297.4,1200.0 L297.6,1197.2 L297.7,1194.5 L297.8,1191.8 L298.0,1189.1 L298.1,1186.5 L298.3,1183.8 L298.4,1181.1 L298.6,1178.5 L298.8,1175.9 L298.9,1173.2 L299.1,1170.6 L299.3,1168.0 L299.5,1165.4 L299.8,1162.8 L300.0,1160.3 L300.2,1157.7 L300.4,1155.2 L300.7,1152.6 L300.9,1150.1 L301.2,1147.6 L301.5,1145.0 L301.7,1142.5 L302.0,1140.0 L302.3,1137.5 L302.6,1135.1 L302.9,1132.6 L303.2,1130.1 L303.5,1127.7 L303.9,1125.2 L304.2,1122.8 L304.5,1120.3 L304.9,1117.9 L305.2,1115.5 L305.6,1113.1 L306.0,1110.7 L306.3,1108.3 L306.7,1105.9 L307.1,1103.5 L307.5,1101.1 L307.9,1098.7 L308.3,1096.4 L308.8,1094.0 L309.2,1091.7 L309.6,1089.3 L310.1,1087.0 L310.5,1084.6 L311.0,1082.3 L311.5,1080.0 L311.9,1077.7 L312.4,1075.4 L312.9,1073.0 L313.4,1070.7 L313.9,1068.4 L314.4,1066.1 L315.0,1063.8 L315.5,1061.6 L316.0,1059.3 L316.6,1057.0 L317.1,1054.7 L317.7,1052.4 L318.2,1050.2 L318.8,1047.9 L319.4,1045.6 L320.0,1043.4 L320.6,1041.1 L321.2,1038.9 L321.8,1036.6 L322.4,1034.4 L323.0,1032.1 L323.7,1029.9 L324.3,1027.6 L325.0,1025.4 L325.6,1023.2 L326.3,1020.9 L326.9,1018.7 L327.6,1016.5 L328.3,1014.2 L329.0,1012.0 L329.7,1009.8 L330.4,1007.6 L331.1,1005.4 L331.8,1003.2 L332.6,1001.0 L333.3,998.8 L334.1,996.6 L334.8,994.4 L335.6,992.2 L336.3,990.0 L337.1,987.8 L337.9,985.7 L338.7,983.5 L339.5,981.3 L340.3,979.2 L341.1,977.0 L341.9,974.9 L342.8,972.8 L343.6,970.6 L344.4,968.5 L345.3,966.4 L346.1,964.3 L347.0,962.2 L347.9,960.1 L348.8,958.0 L349.6,956.0 L350.5,953.9 L351.4,951.8 L352.4,949.8 L353.3,947.8 L354.2,945.7 L355.1,943.7 L356.1,941.7 L357.0,939.7 L358.0,937.7 L358.9,935.8 L359.9,933.8 L360.9,931.8 L361.9,929.9 L362.9,928.0 L363.9,926.0 L364.9,924.1 L365.9,922.2 L366.9,920.3 L367.9,918.5 L369.0,916.6 L370.0,914.7 L371.1,912.9 L372.1,911.0 L373.2,909.2 L374.3,907.4 L375.4,905.6 L376.4,903.8 L377.5,902.0 L378.6,900.2 L379.8,898.5 L380.9,896.7 L382.0,894.9 L383.1,893.2 L384.3,891.5 L385.4,889.8 L386.6,888.1 L387.8,886.3 L388.9,884.7 L390.1,883.0 L391.3,881.3 L392.5,879.6 L393.7,878.0 L394.9,876.3 L396.1,874.7 L397.3,873.1 L398.6,871.5 L399.8,869.8 L401.1,868.2 L402.3,866.7 L403.6,865.1 L404.9,863.5 L406.1,861.9 L407.4,860.4 L408.7,858.8 L410.0,857.3 L411.3,855.7 L412.6,854.2 L414.0,852.7 L415.3,851.2 L416.6,849.7 L418.0,848.2 L419.3,846.7 L420.7,845.2 L422.0,843.8 L423.4,842.3 L424.8,840.9 L426.2,839.4 L427.6,838.0 L429.0,836.5 L430.4,835.1 L431.8,833.7 L433.3,832.3 L434.7,830.9 L436.1,829.5 L437.6,828.1 L439.0,826.7 L440.5,825.4 L442.0,824.0 L443.5,822.6 L444.9,821.3 L446.4,819.9 L447.9,818.6 L449.4,817.3 L451.0,815.9 L452.5,814.6 L454.0,813.3 L455.6,812.0 L457.1,810.7 L458.7,809.4 L460.2,808.1 L461.8,806.8 L463.4,805.5 L465.0,804.3 L466.5,803.0 L468.1,801.8 L469.8,800.5 L471.4,799.3 L473.0,798.0 L474.6,796.8 L476.3,795.6 L477.9,794.3 L479.5,793.1 L481.2,791.9 L482.9,790.7 L484.5,789.5 L486.2,788.3 L487.9,787.1 L489.6,785.9 L491.3,784.7 L493.0,783.6 L494.8,782.4 L496.5,781.2 L498.2,780.1 L500.0,778.9 L501.7,777.8 L503.5,776.6 L505.2,775.5 L507.0,774.3 L508.8,773.2 L510.6,772.1 L512.4,770.9 L514.2,769.8 L516.0,768.7 L517.8,767.6 L519.6,766.5 L521.4,765.4 L523.3,764.3 L525.1,763.2 L527.0,762.1 L528.8,761.0 L530.7,760.0 L532.6,758.9 L534.5,757.8 L536.4,756.7 L538.3,755.7 L540.2,754.6 L542.1,753.6 L544.0,752.5 L545.9,751.5 L547.9,750.4 L549.8,749.4 L551.8,748.4 L553.7,747.3 L555.7,746.3 L557.7,745.3 L559.6,744.3 L561.6,743.3 L563.6,742.3 L565.6,741.3 L567.7,740.3 L569.7,739.3 L571.7,738.3 L573.7,737.3 L575.8,736.3 L577.8,735.3 L579.9,734.3 L581.9,733.4 L584.0,732.4 L586.1,731.4 L588.2,730.5 L590.3,729.5 L592.4,728.5 L594.5,727.6 L596.6,726.6 L598.7,725.7 L600.9,724.8 L603.0,723.8 L605.1,722.9 L607.3,722.0 L609.5,721.0 L611.6,720.1 L613.8,719.2 L616.0,718.3 L618.2,717.4 L620.4,716.5 L622.6,715.5 L624.8,714.6 L627.0,713.7 L629.2,712.8 L631.5,712.0 L633.7,711.1 L636.0,710.2 L638.2,709.3 L640.5,708.4 L642.8,707.5 L645.1,706.7 L647.3,705.8 L649.6,704.9 L651.9,704.1 L654.3,703.2 L656.6,702.3 L658.9,701.5 L661.2,700.6 L663.6,699.8 L665.9,698.9 L668.3,698.1 L670.6,697.2 L673.0,696.4 L675.4,695.6 L677.8,694.7 L680.2,693.9 L682.6,693.1 L685.0,692.2 L687.4,691.4 L689.8,690.6 L692.3,689.8 L694.7,689.0 L697.1,688.1 L699.6,687.3 L702.1,686.5 L704.5,685.7 L707.0,684.9 L709.5,684.1 L712.0,683.3 L714.5,682.5 L717.0,681.7 L719.5,680.9 L722.0,680.1 L724.5,679.4 L727.1,678.6 L729.6,677.8 L732.2,677.0 L734.7,676.2 L737.3,675.5 L739.9,674.7 L742.4,673.9 L745.0,673.1 L747.6,672.4 L750.2,671.6 L752.8,670.8 L755.5,670.1 L758.1,669.3 L760.7,668.6 L763.4,667.8 L766.0,667.1 L768.7,666.3 L771.3,665.6 L774.0,664.8 L776.7,664.1 L779.4,663.3 L782.1,662.6 L784.8,661.8 L787.5,661.1 L790.2,660.4 L792.9,659.6 L795.6,658.9 L798.4,658.1 L801.1,657.4 L803.9,656.7 L806.6,656.0 L809.4,655.2 L812.2,654.5 L815.0,653.8 L817.8,653.1 L820.5,652.3 L823.4,651.6 L826.2,650.9 L829.0,650.2 L831.8,649.5 L834.7,648.8 L837.5,648.0 L840.3,647.3 L843.2,646.6 L846.1,645.9 L848.9,645.2 L851.8,644.5 L854.7,643.8 L857.6,643.1 L860.5,642.4 L863.4,641.7 L866.3,641.0 L869.3,640.3 L872.2,639.6 L875.1,638.9 L878.1,638.2 L881.0,637.5 L884.0,636.8 L887.0,636.1 L890.0,635.4 L892.9,634.7 L895.9,634.0 L898.9,633.3 L901.9,632.6 L905.0,631.9 L908.0,631.3 L911.0,630.6 L914.0,629.9 L917.1,629.2 L920.1,628.5 L923.2,627.8 L926.3,627.1 L929.3,626.5 L932.4,625.8 L935.5,625.1 L938.6,624.4 L941.7,623.7 L944.8,623.1 L948.0,622.4 L951.1,621.7 L954.2,621.0 L957.4,620.4 L960.5,619.7 L963.7,619.0 L966.8,618.3 L970.0,617.7 L973.2,617.0 L976.4,616.3 L979.6,615.7 L982.8,615.0 L986.0,614.3 L989.2,613.7 L992.4,613.0 L995.7,612.3 L998.9,611.7 L1002.1,611.0 L1005.4,610.3 L1008.7,609.7 L1011.9,609.0 L1015.2,608.3 L1018.5,607.7 L1021.8,607.0 L1025.1,606.4 L1028.4,605.7 L1031.7,605.1 L1035.0,604.4 L1038.4,603.8 L1041.7,603.1 L1045.0,602.4 L1048.4,601.8 L1051.8,601.1 L1055.1,600.5 L1058.5,599.8 L1061.9,599.2 L1065.3,598.5 L1068.7,597.9 L1072.1,597.3 L1075.5,596.6 L1078.9,596.0 L1082.3,595.3 L1085.8,594.7 L1089.2,594.0 L1092.7,593.4 L1096.1,592.8 L1099.6,592.1 L1103.1,591.5 L1106.5,590.8 L1110.0,590.2 L1113.5,589.6 L1117.0,588.9 L1120.5,588.3 L1124.0,587.7 L1127.6,587.0 L1131.1,586.4 L1134.6,585.8 L1138.2,585.1 L1141.7,584.5 L1145.3,583.9 L1148.9,583.2 L1152.5,582.6 L1156.0,582.0 L1159.6,581.4 L1163.2,580.7 L1166.8,580.1 L1170.5,579.5 L1174.1,578.9 L1177.7,578.2 L1181.3,577.6 L1185.0,577.0 L1188.6,576.4 L1192.3,575.8 L1196.0,575.1 L1199.6,574.5 L1203.3,573.9 L1207.0,573.3 L1210.7,572.7 L1214.4,572.1 L1218.1,571.5 L1221.8,570.8 L1225.6,570.2 L1229.3,569.6 L1233.1,569.0 L1236.8,568.4 L1240.6,567.8 L1244.3,567.2 L1248.1,566.6 L1251.9,566.0 L1255.7,565.4 L1259.5,564.8 L1263.3,564.1 L1267.1,563.5 L1270.9,562.9 L1274.7,562.3 L1278.5,561.7 L1282.4,561.1 L1286.2,560.5 L1290.1,559.9 L1293.9,559.3 L1297.8,558.7 L1301.7,558.1 L1305.6,557.5 L1309.5,557.0 L1313.4,556.4 L1317.3,555.8 L1321.2,555.2 L1325.1,554.6 L1329.0,554.0 L1333.0,553.4 L1336.9,552.8 L1340.9,552.2 L1344.8,551.6 L1348.8,551.0 L1352.8,550.4 L1356.8,549.9 L1360.7,549.3 L1364.7,548.7 L1368.7,548.1 L1372.8,547.5 L1376.8,546.9 L1380.8,546.4 L1384.8,545.8 L1388.9,545.2 L1392.9,544.6 L1397.0,544.0 L1401.0,543.5 L1405.1,542.9 L1409.2,542.3 L1413.3,541.7 L1417.4,541.2 L1421.5,540.6 L1425.6,540.0 L1429.7,539.4 L1433.8,538.9 L1438.0,538.3 L1442.1,537.7 L1446.2,537.1 L1450.4,536.6 L1454.6,536.0 L1458.7,535.4 L1462.9,534.9 L1467.1,534.3 L1471.3,533.7 L1475.5,533.2 L1479.7,532.6 L1483.9,532.0 L1488.1,531.5 L1492.4,530.9 L1496.6,530.4 L1500.8,529.8 L1505.1,529.2 L1509.3,528.7 L1513.6,528.1 L1517.9,527.6 L1522.2,527.0 L1526.5,526.4 L1530.8,525.9 L1535.1,525.3 L1539.4,524.8 L1543.7,524.2 L1548.0,523.7 L1552.3,523.1 L1556.7,522.6 L1561.0,522.0 L1565.4,521.5 L1569.8,520.9 L1574.1,520.4 L1578.5,519.8 L1582.9,519.3 L1587.3,518.7 L1591.7,518.2 L1596.1,517.6 L1600.5,517.1 L1604.9,516.5 L1609.4,516.0 L1613.8,515.4 L1618.3,514.9 L1622.7,514.4 L1627.2,513.8 L1631.6,513.3 L1636.1,512.7 L1640.6,512.2" stroke-width="6.9" stroke-dasharray="21.5 30" stroke-dashoffset="-6"/>
</g>
<g clip-path="url(#clipB)" stroke="#000" fill="#000">
<rect x="284.4" y="1230.0" width="24.5" height="24.5" stroke="none"/>
<path d="M307.8,1164.5 V1116.5 M297.5,1164.5 h20.6 M297.5,1116.5 h20.6" stroke-width="4.9" stroke-linecap="round" fill="none"/>
<rect x="295.6" y="1128.2" width="24.5" height="24.5" stroke="none"/>
<path d="M319.0,1164.5 V1116.5 M308.7,1164.5 h20.6 M308.7,1116.5 h20.6" stroke-width="4.9" stroke-linecap="round" fill="none"/>
<rect x="306.8" y="1128.2" width="24.5" height="24.5" stroke="none"/>
<path d="M341.4,1114.6 V1057.8 M331.1,1114.6 h20.6 M331.1,1057.8 h20.6" stroke-width="4.9" stroke-linecap="round" fill="none"/>
<rect x="329.2" y="1074.1" width="24.5" height="24.5" stroke="none"/>
<path d="M386.2,911.0 V754.8 M375.9,911.0 h20.6 M375.9,754.8 h20.6" stroke-width="4.9" stroke-linecap="round" fill="none"/>
<rect x="374.0" y="820.6" width="24.5" height="24.5" stroke="none"/>
<path d="M453.4,722.7 V594.5 M443.1,722.7 h20.6 M443.1,594.5 h20.6" stroke-width="4.9" stroke-linecap="round" fill="none"/>
<rect x="441.1" y="646.9" width="24.5" height="24.5" stroke="none"/>
<path d="M531.8,766.6 V500.5 M521.5,766.6 h20.6 M521.5,500.5 h20.6" stroke-width="4.9" stroke-linecap="round" fill="none"/>
<rect x="519.5" y="621.3" width="24.5" height="24.5" stroke="none"/>
<path d="M632.6,752.1 V581.6 M622.3,752.1 h20.6 M622.3,581.6 h20.6" stroke-width="4.9" stroke-linecap="round" fill="none"/>
<rect x="620.4" y="655.0" width="24.5" height="24.5" stroke="none"/>
<path d="M789.4,673.7 V577.0 M779.1,673.7 h20.6 M779.1,577.0 h20.6" stroke-width="4.9" stroke-linecap="round" fill="none"/>
<rect x="777.1" y="612.7" width="24.5" height="24.5" stroke="none"/>
<path d="M1125.4,590.5 V318.4 M1115.1,590.5 h20.6 M1115.1,318.4 h20.6" stroke-width="4.9" stroke-linecap="round" fill="none"/>
<rect x="1113.2" y="442.2" width="24.5" height="24.5" stroke="none"/>
<path d="M1528.6,522.6 V189.7 M1518.3,522.6 h20.6 M1518.3,189.7 h20.6" stroke-width="4.9" stroke-linecap="round" fill="none"/>
<rect x="1516.3" y="343.9" width="24.5" height="24.5" stroke="none"/>
</g>
<rect x="296.60" y="164.90" width="1344.00" height="1077.40" fill="none" stroke="#000" stroke-width="4.9"/>
<path d="M632.60,1242.30 v-21 M968.60,1242.30 v-21 M1304.60,1242.30 v-21 M296.60,972.95 h21 M296.60,703.60 h21 M296.60,434.25 h21" stroke="#000" stroke-width="4.9" fill="none"/>
<text x="190.40 223.40 238.50" y="1262.30" font-size="68.3">0.0</text>
<text x="190.40 223.40 238.50" y="992.95" font-size="68.3">0.1</text>
<text x="190.40 223.40 238.50" y="723.60" font-size="68.3">0.2</text>
<text x="190.40 223.40 238.50" y="454.25" font-size="68.3">0.3</text>
<text x="190.40 223.40 238.50" y="184.90" font-size="68.3">0.4</text>
<text x="279.41" y="1316.90" font-size="68.3" textLength="33.39" lengthAdjust="spacingAndGlyphs">0</text>
<text x="599.03" y="1316.90" font-size="68.3" textLength="67.28" lengthAdjust="spacingAndGlyphs">30</text>
<text x="934.17" y="1316.90" font-size="68.3" textLength="66.92" lengthAdjust="spacingAndGlyphs">60</text>
<text x="1272.52" y="1316.90" font-size="68.3" textLength="66.15" lengthAdjust="spacingAndGlyphs">90</text>
<text x="1593.46" y="1316.90" font-size="68.3" textLength="96.29" lengthAdjust="spacingAndGlyphs">120</text>
<text x="628.91" y="1428.90" font-size="73.3" textLength="681.14" lengthAdjust="spacingAndGlyphs">Immersion times (days)</text>
<text transform="translate(162.80,1011.17) rotate(-90)" x="0" y="0" font-size="73" textLength="616.30" lengthAdjust="spacingAndGlyphs">Water absorption (%)</text>
<text x="36.76" y="117.90" font-size="89.5" textLength="122.69" lengthAdjust="spacingAndGlyphs">(B)</text>
<rect x="1662.20" y="163.60" width="716.00" height="508.90" fill="#fff" stroke="#000" stroke-width="2.4"/>
<rect x="1732.8" y="196.2" width="24.5" height="24.5" fill="#000"/>
<text x="1836.18" y="230.70" font-size="66.7" textLength="534.63" lengthAdjust="spacingAndGlyphs">HT40<tspan dy="6.3">_</tspan><tspan dy="-6.3">tested results</tspan></text>
<path d="M1671.5,298.5 H1819.7" stroke="#000" stroke-width="6.9" stroke-linecap="round" fill="none"/>
<text x="1840.28" y="320.80" font-size="66.7" textLength="25.71" lengthAdjust="spacingAndGlyphs">1</text>
<text x="1864.45" y="331.48" font-size="82.85">×</text>
<text x="1906.95" y="320.80" font-size="66.7" font-style="italic" textLength="48.36" lengthAdjust="spacingAndGlyphs">D</text>
<text x="1955.14" y="338.90" font-size="48.5" textLength="113.17" lengthAdjust="spacingAndGlyphs">GFRP</text>
<path d="M1671.5,403.4 H1819.7" stroke="#000" stroke-width="6.9" stroke-linecap="round" fill="none" stroke-dasharray="21.5 30"/>
<text x="1837.54" y="425.90" font-size="66.7" textLength="28.81" lengthAdjust="spacingAndGlyphs">3</text>
<text x="1864.45" y="436.58" font-size="82.85">×</text>
<text x="1906.95" y="425.90" font-size="66.7" font-style="italic" textLength="48.36" lengthAdjust="spacingAndGlyphs">D</text>
<text x="1955.14" y="444.00" font-size="48.5" textLength="113.17" lengthAdjust="spacingAndGlyphs">GFRP</text>
<path d="M1671.5,507.9 H1819.7" stroke="#000" stroke-width="7.0" stroke-linecap="round" fill="none" stroke-dasharray="3.8 27"/>
<text x="1836.06" y="530.80" font-size="66.7" textLength="32.15" lengthAdjust="spacingAndGlyphs">5</text>
<text x="1864.45" y="541.48" font-size="82.85">×</text>
<text x="1906.95" y="530.80" font-size="66.7" font-style="italic" textLength="48.36" lengthAdjust="spacingAndGlyphs">D</text>
<text x="1955.14" y="548.90" font-size="48.5" textLength="113.17" lengthAdjust="spacingAndGlyphs">GFRP</text>
<path d="M1671.5,612.5 H1819.7" stroke="#000" stroke-width="6.9" stroke-linecap="round" fill="none" stroke-dasharray="26 18.3 3 18"/>
<text x="1839.27" y="635.30" font-size="66.7" textLength="62.93" lengthAdjust="spacingAndGlyphs">10</text>
<text x="1897.75" y="645.98" font-size="82.85">×</text>
<text x="1939.95" y="635.30" font-size="66.7" font-style="italic" textLength="48.16" lengthAdjust="spacingAndGlyphs">D</text>
<text x="1988.15" y="653.40" font-size="48.5" textLength="113.06" lengthAdjust="spacingAndGlyphs">GFRP</text>
</g>
<g id="chartC">
<clipPath id="clipC"><rect x="296.70" y="1609.60" width="1337.10" height="1071.40"/></clipPath>
<g clip-path="url(#clipC)" fill="none" stroke="#000" stroke-linecap="round" stroke-linejoin="round">
<path d="M296.7,2681.0 L296.7,2672.7 L296.7,2664.7 L296.7,2656.9 L296.8,2649.5 L296.8,2642.3 L296.8,2635.4 L296.9,2628.7 L296.9,2622.3 L297.0,2616.2 L297.1,2610.3 L297.2,2604.6 L297.2,2599.2 L297.3,2594.0 L297.4,2589.0 L297.5,2584.2 L297.7,2579.7 L297.8,2575.3 L297.9,2571.1 L298.0,2567.1 L298.2,2563.3 L298.3,2559.7 L298.5,2556.2 L298.7,2552.9 L298.8,2549.8 L299.0,2546.8 L299.2,2543.9 L299.4,2541.2 L299.6,2538.6 L299.8,2536.1 L300.1,2533.8 L300.3,2531.6 L300.5,2529.4 L300.8,2527.4 L301.0,2525.5 L301.3,2523.6 L301.5,2521.9 L301.8,2520.2 L302.1,2518.5 L302.4,2517.0 L302.7,2515.5 L303.0,2514.0 L303.3,2512.6 L303.6,2511.2 L303.9,2509.9 L304.2,2508.5 L304.6,2507.2 L304.9,2505.9 L305.3,2504.7 L305.6,2503.4 L306.0,2502.1 L306.4,2500.8 L306.8,2499.4 L307.2,2498.1 L307.6,2496.7 L308.0,2495.3 L308.4,2493.8 L308.8,2492.3 L309.2,2490.7 L309.7,2489.1 L310.1,2487.3 L310.6,2485.5 L311.0,2483.7 L311.5,2481.7 L312.0,2479.6 L312.4,2477.4 L312.9,2475.2 L313.4,2472.8 L313.9,2470.4 L314.4,2467.9 L315.0,2465.3 L315.5,2462.6 L316.0,2460.0 L316.6,2457.2 L317.1,2454.5 L317.7,2451.7 L318.2,2448.9 L318.8,2446.2 L319.4,2443.4 L320.0,2440.6 L320.6,2437.8 L321.2,2435.1 L321.8,2432.4 L322.4,2429.7 L323.0,2427.0 L323.6,2424.3 L324.3,2421.7 L324.9,2419.1 L325.6,2416.5 L326.2,2413.9 L326.9,2411.3 L327.6,2408.8 L328.2,2406.2 L328.9,2403.7 L329.6,2401.2 L330.3,2398.7 L331.0,2396.2 L331.8,2393.8 L332.5,2391.3 L333.2,2388.9 L334.0,2386.5 L334.7,2384.0 L335.5,2381.6 L336.2,2379.2 L337.0,2376.7 L337.8,2374.3 L338.6,2371.9 L339.4,2369.4 L340.2,2367.0 L341.0,2364.5 L341.8,2362.0 L342.6,2359.5 L343.4,2357.0 L344.3,2354.5 L345.1,2352.0 L346.0,2349.4 L346.8,2346.9 L347.7,2344.4 L348.6,2341.8 L349.5,2339.3 L350.4,2336.7 L351.3,2334.2 L352.2,2331.7 L353.1,2329.2 L354.0,2326.7 L354.9,2324.2 L355.9,2321.8 L356.8,2319.4 L357.8,2317.0 L358.7,2314.7 L359.7,2312.3 L360.7,2310.0 L361.6,2307.7 L362.6,2305.5 L363.6,2303.2 L364.6,2301.0 L365.6,2298.7 L366.6,2296.5 L367.7,2294.3 L368.7,2292.2 L369.7,2290.0 L370.8,2287.8 L371.8,2285.6 L372.9,2283.5 L374.0,2281.3 L375.1,2279.2 L376.1,2277.0 L377.2,2274.8 L378.3,2272.7 L379.4,2270.5 L380.5,2268.3 L381.7,2266.2 L382.8,2264.0 L383.9,2261.8 L385.1,2259.7 L386.2,2257.5 L387.4,2255.4 L388.6,2253.2 L389.7,2251.1 L390.9,2248.9 L392.1,2246.8 L393.3,2244.6 L394.5,2242.5 L395.7,2240.4 L396.9,2238.3 L398.2,2236.1 L399.4,2234.0 L400.6,2231.9 L401.9,2229.8 L403.1,2227.7 L404.4,2225.7 L405.7,2223.6 L406.9,2221.5 L408.2,2219.5 L409.5,2217.4 L410.8,2215.4 L412.1,2213.4 L413.4,2211.4 L414.8,2209.4 L416.1,2207.4 L417.4,2205.4 L418.8,2203.4 L420.1,2201.5 L421.5,2199.6 L422.9,2197.6 L424.2,2195.7 L425.6,2193.8 L427.0,2191.9 L428.4,2190.1 L429.8,2188.2 L431.2,2186.4 L432.6,2184.6 L434.1,2182.8 L435.5,2181.0 L437.0,2179.2 L438.4,2177.5 L439.9,2175.7 L441.3,2174.0 L442.8,2172.3 L444.3,2170.6 L445.8,2168.9 L447.3,2167.2 L448.8,2165.6 L450.3,2163.9 L451.8,2162.3 L453.3,2160.7 L454.8,2159.0 L456.4,2157.4 L457.9,2155.8 L459.5,2154.2 L461.0,2152.7 L462.6,2151.1 L464.2,2149.5 L465.8,2148.0 L467.4,2146.4 L469.0,2144.8 L470.6,2143.3 L472.2,2141.7 L473.8,2140.2 L475.4,2138.7 L477.1,2137.1 L478.7,2135.6 L480.4,2134.1 L482.0,2132.5 L483.7,2131.0 L485.4,2129.4 L487.0,2127.9 L488.7,2126.4 L490.4,2124.8 L492.1,2123.3 L493.8,2121.8 L495.6,2120.2 L497.3,2118.7 L499.0,2117.2 L500.8,2115.6 L502.5,2114.1 L504.3,2112.6 L506.0,2111.0 L507.8,2109.5 L509.6,2108.0 L511.4,2106.4 L513.1,2104.9 L514.9,2103.4 L516.8,2101.8 L518.6,2100.3 L520.4,2098.8 L522.2,2097.2 L524.1,2095.7 L525.9,2094.2 L527.8,2092.7 L529.6,2091.2 L531.5,2089.6 L533.4,2088.1 L535.2,2086.6 L537.1,2085.1 L539.0,2083.6 L540.9,2082.1 L542.8,2080.6 L544.8,2079.1 L546.7,2077.6 L548.6,2076.1 L550.6,2074.6 L552.5,2073.1 L554.5,2071.6 L556.4,2070.1 L558.4,2068.6 L560.4,2067.1 L562.4,2065.6 L564.4,2064.2 L566.4,2062.7 L568.4,2061.2 L570.4,2059.7 L572.4,2058.3 L574.4,2056.8 L576.5,2055.4 L578.5,2053.9 L580.6,2052.5 L582.6,2051.0 L584.7,2049.6 L586.8,2048.1 L588.9,2046.7 L591.0,2045.3 L593.1,2043.8 L595.2,2042.4 L597.3,2041.0 L599.4,2039.6 L601.5,2038.2 L603.7,2036.8 L605.8,2035.4 L607.9,2034.0 L610.1,2032.6 L612.3,2031.2 L614.4,2029.8 L616.6,2028.4 L618.8,2027.1 L621.0,2025.7 L623.2,2024.3 L625.4,2023.0 L627.6,2021.6 L629.9,2020.2 L632.1,2018.9 L634.3,2017.5 L636.6,2016.2 L638.8,2014.9 L641.1,2013.5 L643.4,2012.2 L645.6,2010.9 L647.9,2009.5 L650.2,2008.2 L652.5,2006.9 L654.8,2005.6 L657.1,2004.3 L659.5,2003.0 L661.8,2001.7 L664.1,2000.4 L666.5,1999.1 L668.8,1997.8 L671.2,1996.5 L673.5,1995.3 L675.9,1994.0 L678.3,1992.7 L680.7,1991.5 L683.1,1990.2 L685.5,1988.9 L687.9,1987.7 L690.3,1986.4 L692.7,1985.2 L695.2,1983.9 L697.6,1982.7 L700.1,1981.5 L702.5,1980.2 L705.0,1979.0 L707.5,1977.8 L709.9,1976.6 L712.4,1975.4 L714.9,1974.2 L717.4,1973.0 L719.9,1971.8 L722.4,1970.6 L725.0,1969.4 L727.5,1968.2 L730.0,1967.0 L732.6,1965.8 L735.1,1964.6 L737.7,1963.5 L740.3,1962.3 L742.8,1961.1 L745.4,1960.0 L748.0,1958.8 L750.6,1957.7 L753.2,1956.5 L755.8,1955.4 L758.4,1954.2 L761.1,1953.1 L763.7,1952.0 L766.3,1950.9 L769.0,1949.7 L771.6,1948.6 L774.3,1947.5 L777.0,1946.4 L779.7,1945.3 L782.4,1944.2 L785.0,1943.1 L787.7,1942.0 L790.5,1940.9 L793.2,1939.8 L795.9,1938.7 L798.6,1937.6 L801.4,1936.6 L804.1,1935.5 L806.9,1934.4 L809.6,1933.4 L812.4,1932.3 L815.2,1931.3 L818.0,1930.2 L820.8,1929.2 L823.5,1928.1 L826.4,1927.1 L829.2,1926.1 L832.0,1925.0 L834.8,1924.0 L837.7,1923.0 L840.5,1922.0 L843.3,1920.9 L846.2,1919.9 L849.1,1918.9 L851.9,1917.9 L854.8,1916.9 L857.7,1915.9 L860.6,1914.9 L863.5,1914.0 L866.4,1913.0 L869.3,1912.0 L872.3,1911.0 L875.2,1910.1 L878.1,1909.1 L881.1,1908.1 L884.0,1907.2 L887.0,1906.2 L890.0,1905.3 L893.0,1904.3 L895.9,1903.4 L898.9,1902.5 L901.9,1901.5 L904.9,1900.6 L908.0,1899.7 L911.0,1898.7 L914.0,1897.8 L917.0,1896.9 L920.1,1896.0 L923.1,1895.1 L926.2,1894.2 L929.3,1893.3 L932.3,1892.4 L935.4,1891.5 L938.5,1890.6 L941.6,1889.8 L944.7,1888.9 L947.8,1888.0 L950.9,1887.1 L954.1,1886.3 L957.2,1885.4 L960.3,1884.6 L963.5,1883.7 L966.6,1882.9 L969.8,1882.0 L973.0,1881.2 L976.2,1880.3 L979.3,1879.5 L982.5,1878.7 L985.7,1877.8 L989.0,1877.0 L992.2,1876.2 L995.4,1875.4 L998.6,1874.6 L1001.9,1873.8 L1005.1,1873.0 L1008.4,1872.2 L1011.6,1871.4 L1014.9,1870.6 L1018.2,1869.8 L1021.4,1869.0 L1024.7,1868.3 L1028.0,1867.5 L1031.3,1866.7 L1034.7,1865.9 L1038.0,1865.2 L1041.3,1864.4 L1044.6,1863.7 L1048.0,1862.9 L1051.3,1862.2 L1054.7,1861.4 L1058.1,1860.7 L1061.4,1859.9 L1064.8,1859.2 L1068.2,1858.5 L1071.6,1857.8 L1075.0,1857.0 L1078.4,1856.3 L1081.8,1855.6 L1085.2,1854.9 L1088.7,1854.2 L1092.1,1853.5 L1095.6,1852.8 L1099.0,1852.1 L1102.5,1851.4 L1105.9,1850.7 L1109.4,1850.0 L1112.9,1849.4 L1116.4,1848.7 L1119.9,1848.0 L1123.4,1847.3 L1126.9,1846.7 L1130.4,1846.0 L1134.0,1845.4 L1137.5,1844.7 L1141.1,1844.1 L1144.6,1843.4 L1148.2,1842.8 L1151.7,1842.1 L1155.3,1841.5 L1158.9,1840.9 L1162.5,1840.2 L1166.1,1839.6 L1169.7,1839.0 L1173.3,1838.4 L1176.9,1837.8 L1180.5,1837.2 L1184.2,1836.5 L1187.8,1835.9 L1191.5,1835.3 L1195.1,1834.8 L1198.8,1834.2 L1202.4,1833.6 L1206.1,1833.0 L1209.8,1832.4 L1213.5,1831.8 L1217.2,1831.3 L1220.9,1830.7 L1224.6,1830.1 L1228.3,1829.6 L1232.1,1829.0 L1235.8,1828.4 L1239.6,1827.9 L1243.3,1827.3 L1247.1,1826.8 L1250.8,1826.3 L1254.6,1825.7 L1258.4,1825.2 L1262.2,1824.7 L1266.0,1824.1 L1269.8,1823.6 L1273.6,1823.1 L1277.4,1822.6 L1281.2,1822.1 L1285.1,1821.6 L1288.9,1821.0 L1292.8,1820.5 L1296.6,1820.0 L1300.5,1819.6 L1304.4,1819.1 L1308.2,1818.6 L1312.1,1818.1 L1316.0,1817.6 L1319.9,1817.1 L1323.8,1816.7 L1327.8,1816.2 L1331.7,1815.7 L1335.6,1815.2 L1339.5,1814.8 L1343.5,1814.3 L1347.4,1813.9 L1351.4,1813.4 L1355.4,1813.0 L1359.4,1812.5 L1363.3,1812.1 L1367.3,1811.7 L1371.3,1811.2 L1375.3,1810.8 L1379.3,1810.4 L1383.4,1809.9 L1387.4,1809.5 L1391.4,1809.1 L1395.5,1808.7 L1399.5,1808.3 L1403.6,1807.9 L1407.7,1807.5 L1411.7,1807.1 L1415.8,1806.7 L1419.9,1806.3 L1424.0,1805.9 L1428.1,1805.5 L1432.2,1805.1 L1436.3,1804.7 L1440.4,1804.4 L1444.6,1804.0 L1448.7,1803.6 L1452.9,1803.3 L1457.0,1802.9 L1461.2,1802.5 L1465.4,1802.2 L1469.5,1801.8 L1473.7,1801.5 L1477.9,1801.1 L1482.1,1800.8 L1486.3,1800.4 L1490.5,1800.1 L1494.8,1799.8 L1499.0,1799.4 L1503.2,1799.1 L1507.5,1798.8 L1511.7,1798.5 L1516.0,1798.2 L1520.2,1797.8 L1524.5,1797.5 L1528.8,1797.2 L1533.1,1796.9 L1537.4,1796.6 L1541.7,1796.3 L1546.0,1796.0 L1550.3,1795.7 L1554.6,1795.4 L1559.0,1795.1 L1563.3,1794.9 L1567.7,1794.6 L1572.0,1794.3 L1576.4,1794.0 L1580.8,1793.8 L1585.1,1793.5 L1589.5,1793.2 L1593.9,1793.0 L1598.3,1792.7 L1602.7,1792.5 L1607.1,1792.2 L1611.6,1792.0 L1616.0,1791.7 L1620.4,1791.5 L1624.9,1791.2 L1629.3,1791.0 L1633.8,1790.8" stroke-width="6.9"/>
<path d="M296.7,2681.0 L296.7,2682.6 L296.7,2683.0 L296.7,2682.0 L296.8,2679.8 L296.8,2676.5 L296.8,2672.2 L296.9,2666.7 L296.9,2660.4 L297.0,2653.1 L297.1,2645.0 L297.2,2636.1 L297.2,2626.5 L297.3,2616.3 L297.4,2605.4 L297.5,2594.1 L297.7,2582.2 L297.8,2570.0 L297.9,2557.4 L298.0,2544.5 L298.2,2531.5 L298.3,2518.2 L298.5,2504.9 L298.7,2491.5 L298.8,2478.1 L299.0,2464.9 L299.2,2451.8 L299.4,2438.9 L299.6,2426.2 L299.8,2413.9 L300.1,2402.0 L300.3,2390.6 L300.5,2379.7 L300.8,2369.3 L301.0,2359.6 L301.3,2350.6 L301.5,2342.4 L301.8,2335.0 L302.1,2328.5 L302.4,2322.8 L302.7,2317.9 L303.0,2313.5 L303.3,2309.4 L303.6,2305.5 L303.9,2301.7 L304.2,2297.6 L304.6,2293.2 L304.9,2288.4 L305.3,2283.6 L305.6,2278.9 L306.0,2274.6 L306.4,2270.7 L306.8,2267.3 L307.2,2264.4 L307.6,2261.9 L308.0,2259.6 L308.4,2257.4 L308.8,2255.1 L309.2,2252.7 L309.7,2249.8 L310.1,2246.5 L310.6,2242.6 L311.0,2238.4 L311.5,2234.2 L312.0,2230.1 L312.4,2226.5 L312.9,2223.2 L313.4,2220.4 L313.9,2217.8 L314.4,2215.6 L315.0,2213.5 L315.5,2211.7 L316.0,2210.0 L316.6,2208.4 L317.1,2206.9 L317.7,2205.3 L318.2,2203.8 L318.8,2202.1 L319.4,2200.4 L320.0,2198.6 L320.6,2196.8 L321.2,2194.8 L321.8,2192.8 L322.4,2190.7 L323.0,2188.5 L323.6,2186.2 L324.3,2183.9 L324.9,2181.5 L325.6,2179.1 L326.2,2176.7 L326.9,2174.3 L327.6,2172.1 L328.2,2169.9 L328.9,2167.9 L329.6,2166.0 L330.3,2164.2 L331.0,2162.6 L331.8,2161.0 L332.5,2159.6 L333.2,2158.2 L334.0,2156.9 L334.7,2155.6 L335.5,2154.4 L336.2,2153.2 L337.0,2151.9 L337.8,2150.7 L338.6,2149.4 L339.4,2148.1 L340.2,2146.7 L341.0,2145.3 L341.8,2143.8 L342.6,2142.2 L343.4,2140.5 L344.3,2138.8 L345.1,2137.0 L346.0,2135.2 L346.8,2133.4 L347.7,2131.7 L348.6,2129.9 L349.5,2128.2 L350.4,2126.5 L351.3,2124.9 L352.2,2123.3 L353.1,2121.8 L354.0,2120.3 L354.9,2118.8 L355.9,2117.4 L356.8,2116.0 L357.8,2114.5 L358.7,2113.2 L359.7,2111.8 L360.7,2110.4 L361.6,2109.0 L362.6,2107.6 L363.6,2106.3 L364.6,2104.9 L365.6,2103.5 L366.6,2102.2 L367.7,2100.8 L368.7,2099.4 L369.7,2098.1 L370.8,2096.7 L371.8,2095.4 L372.9,2094.0 L374.0,2092.7 L375.1,2091.3 L376.1,2090.0 L377.2,2088.7 L378.3,2087.3 L379.4,2086.0 L380.5,2084.6 L381.7,2083.3 L382.8,2082.0 L383.9,2080.6 L385.1,2079.3 L386.2,2078.0 L387.4,2076.7 L388.6,2075.3 L389.7,2074.0 L390.9,2072.7 L392.1,2071.4 L393.3,2070.1 L394.5,2068.8 L395.7,2067.4 L396.9,2066.1 L398.2,2064.8 L399.4,2063.5 L400.6,2062.2 L401.9,2060.9 L403.1,2059.6 L404.4,2058.3 L405.7,2057.0 L406.9,2055.7 L408.2,2054.4 L409.5,2053.2 L410.8,2051.9 L412.1,2050.6 L413.4,2049.3 L414.8,2048.0 L416.1,2046.7 L417.4,2045.5 L418.8,2044.2 L420.1,2042.9 L421.5,2041.6 L422.9,2040.4 L424.2,2039.1 L425.6,2037.8 L427.0,2036.6 L428.4,2035.3 L429.8,2034.1 L431.2,2032.8 L432.6,2031.6 L434.1,2030.3 L435.5,2029.1 L437.0,2027.8 L438.4,2026.6 L439.9,2025.3 L441.3,2024.1 L442.8,2022.8 L444.3,2021.6 L445.8,2020.4 L447.3,2019.1 L448.8,2017.9 L450.3,2016.7 L451.8,2015.5 L453.3,2014.3 L454.8,2013.0 L456.4,2011.8 L457.9,2010.6 L459.5,2009.4 L461.0,2008.2 L462.6,2007.0 L464.2,2005.8 L465.8,2004.6 L467.4,2003.4 L469.0,2002.2 L470.6,2001.0 L472.2,1999.8 L473.8,1998.6 L475.4,1997.4 L477.1,1996.2 L478.7,1995.1 L480.4,1993.9 L482.0,1992.7 L483.7,1991.5 L485.4,1990.4 L487.0,1989.2 L488.7,1988.0 L490.4,1986.9 L492.1,1985.7 L493.8,1984.6 L495.6,1983.4 L497.3,1982.3 L499.0,1981.1 L500.8,1980.0 L502.5,1978.8 L504.3,1977.7 L506.0,1976.6 L507.8,1975.4 L509.6,1974.3 L511.4,1973.2 L513.1,1972.0 L514.9,1970.9 L516.8,1969.8 L518.6,1968.7 L520.4,1967.6 L522.2,1966.5 L524.1,1965.3 L525.9,1964.2 L527.8,1963.1 L529.6,1962.0 L531.5,1960.9 L533.4,1959.9 L535.2,1958.8 L537.1,1957.7 L539.0,1956.6 L540.9,1955.5 L542.8,1954.4 L544.8,1953.4 L546.7,1952.3 L548.6,1951.2 L550.6,1950.2 L552.5,1949.1 L554.5,1948.0 L556.4,1947.0 L558.4,1945.9 L560.4,1944.9 L562.4,1943.8 L564.4,1942.8 L566.4,1941.7 L568.4,1940.7 L570.4,1939.7 L572.4,1938.6 L574.4,1937.6 L576.5,1936.6 L578.5,1935.6 L580.6,1934.6 L582.6,1933.5 L584.7,1932.5 L586.8,1931.5 L588.9,1930.5 L591.0,1929.5 L593.1,1928.5 L595.2,1927.5 L597.3,1926.5 L599.4,1925.5 L601.5,1924.6 L603.7,1923.6 L605.8,1922.6 L607.9,1921.6 L610.1,1920.7 L612.3,1919.7 L614.4,1918.7 L616.6,1917.8 L618.8,1916.8 L621.0,1915.9 L623.2,1914.9 L625.4,1914.0 L627.6,1913.0 L629.9,1912.1 L632.1,1911.2 L634.3,1910.2 L636.6,1909.3 L638.8,1908.4 L641.1,1907.4 L643.4,1906.5 L645.6,1905.6 L647.9,1904.7 L650.2,1903.8 L652.5,1902.9 L654.8,1902.0 L657.1,1901.1 L659.5,1900.2 L661.8,1899.3 L664.1,1898.4 L666.5,1897.5 L668.8,1896.7 L671.2,1895.8 L673.5,1894.9 L675.9,1894.0 L678.3,1893.2 L680.7,1892.3 L683.1,1891.4 L685.5,1890.6 L687.9,1889.7 L690.3,1888.9 L692.7,1888.0 L695.2,1887.2 L697.6,1886.4 L700.1,1885.5 L702.5,1884.7 L705.0,1883.9 L707.5,1883.0 L709.9,1882.2 L712.4,1881.4 L714.9,1880.6 L717.4,1879.8 L719.9,1879.0 L722.4,1878.2 L725.0,1877.3 L727.5,1876.6 L730.0,1875.8 L732.6,1875.0 L735.1,1874.2 L737.7,1873.4 L740.3,1872.6 L742.8,1871.8 L745.4,1871.1 L748.0,1870.3 L750.6,1869.5 L753.2,1868.7 L755.8,1868.0 L758.4,1867.2 L761.1,1866.5 L763.7,1865.7 L766.3,1865.0 L769.0,1864.2 L771.6,1863.5 L774.3,1862.7 L777.0,1862.0 L779.7,1861.3 L782.4,1860.5 L785.0,1859.8 L787.7,1859.1 L790.5,1858.4 L793.2,1857.7 L795.9,1856.9 L798.6,1856.2 L801.4,1855.5 L804.1,1854.8 L806.9,1854.1 L809.6,1853.4 L812.4,1852.7 L815.2,1852.0 L818.0,1851.3 L820.8,1850.7 L823.5,1850.0 L826.4,1849.3 L829.2,1848.6 L832.0,1848.0 L834.8,1847.3 L837.7,1846.6 L840.5,1846.0 L843.3,1845.3 L846.2,1844.7 L849.1,1844.0 L851.9,1843.4 L854.8,1842.7 L857.7,1842.1 L860.6,1841.4 L863.5,1840.8 L866.4,1840.2 L869.3,1839.5 L872.3,1838.9 L875.2,1838.3 L878.1,1837.7 L881.1,1837.0 L884.0,1836.4 L887.0,1835.8 L890.0,1835.2 L893.0,1834.6 L895.9,1834.0 L898.9,1833.4 L901.9,1832.8 L904.9,1832.2 L908.0,1831.6 L911.0,1831.0 L914.0,1830.5 L917.0,1829.9 L920.1,1829.3 L923.1,1828.7 L926.2,1828.2 L929.3,1827.6 L932.3,1827.0 L935.4,1826.5 L938.5,1825.9 L941.6,1825.3 L944.7,1824.8 L947.8,1824.2 L950.9,1823.7 L954.1,1823.2 L957.2,1822.6 L960.3,1822.1 L963.5,1821.5 L966.6,1821.0 L969.8,1820.5 L973.0,1820.0 L976.2,1819.4 L979.3,1818.9 L982.5,1818.4 L985.7,1817.9 L989.0,1817.4 L992.2,1816.9 L995.4,1816.4 L998.6,1815.9 L1001.9,1815.4 L1005.1,1814.9 L1008.4,1814.4 L1011.6,1813.9 L1014.9,1813.4 L1018.2,1812.9 L1021.4,1812.5 L1024.7,1812.0 L1028.0,1811.5 L1031.3,1811.0 L1034.7,1810.6 L1038.0,1810.1 L1041.3,1809.7 L1044.6,1809.2 L1048.0,1808.7 L1051.3,1808.3 L1054.7,1807.8 L1058.1,1807.4 L1061.4,1806.9 L1064.8,1806.5 L1068.2,1806.1 L1071.6,1805.6 L1075.0,1805.2 L1078.4,1804.8 L1081.8,1804.3 L1085.2,1803.9 L1088.7,1803.5 L1092.1,1803.1 L1095.6,1802.7 L1099.0,1802.3 L1102.5,1801.9 L1105.9,1801.5 L1109.4,1801.0 L1112.9,1800.6 L1116.4,1800.3 L1119.9,1799.9 L1123.4,1799.5 L1126.9,1799.1 L1130.4,1798.7 L1134.0,1798.3 L1137.5,1797.9 L1141.1,1797.6 L1144.6,1797.2 L1148.2,1796.8 L1151.7,1796.4 L1155.3,1796.1 L1158.9,1795.7 L1162.5,1795.4 L1166.1,1795.0 L1169.7,1794.7 L1173.3,1794.3 L1176.9,1794.0 L1180.5,1793.6 L1184.2,1793.3 L1187.8,1792.9 L1191.5,1792.6 L1195.1,1792.3 L1198.8,1791.9 L1202.4,1791.6 L1206.1,1791.3 L1209.8,1791.0 L1213.5,1790.6 L1217.2,1790.3 L1220.9,1790.0 L1224.6,1789.7 L1228.3,1789.4 L1232.1,1789.1 L1235.8,1788.8 L1239.6,1788.5 L1243.3,1788.2 L1247.1,1787.9 L1250.8,1787.6 L1254.6,1787.3 L1258.4,1787.0 L1262.2,1786.7 L1266.0,1786.5 L1269.8,1786.2 L1273.6,1785.9 L1277.4,1785.6 L1281.2,1785.4 L1285.1,1785.1 L1288.9,1784.8 L1292.8,1784.6 L1296.6,1784.3 L1300.5,1784.1 L1304.4,1783.8 L1308.2,1783.6 L1312.1,1783.3 L1316.0,1783.1 L1319.9,1782.8 L1323.8,1782.6 L1327.8,1782.3 L1331.7,1782.1 L1335.6,1781.9 L1339.5,1781.6 L1343.5,1781.4 L1347.4,1781.2 L1351.4,1781.0 L1355.4,1780.8 L1359.4,1780.5 L1363.3,1780.3 L1367.3,1780.1 L1371.3,1779.9 L1375.3,1779.7 L1379.3,1779.5 L1383.4,1779.3 L1387.4,1779.1 L1391.4,1778.9 L1395.5,1778.7 L1399.5,1778.5 L1403.6,1778.4 L1407.7,1778.2 L1411.7,1778.0 L1415.8,1777.8 L1419.9,1777.6 L1424.0,1777.5 L1428.1,1777.3 L1432.2,1777.1 L1436.3,1777.0 L1440.4,1776.8 L1444.6,1776.6 L1448.7,1776.5 L1452.9,1776.3 L1457.0,1776.2 L1461.2,1776.0 L1465.4,1775.9 L1469.5,1775.7 L1473.7,1775.6 L1477.9,1775.5 L1482.1,1775.3 L1486.3,1775.2 L1490.5,1775.1 L1494.8,1774.9 L1499.0,1774.8 L1503.2,1774.7 L1507.5,1774.6 L1511.7,1774.4 L1516.0,1774.3 L1520.2,1774.2 L1524.5,1774.1 L1528.8,1774.0 L1533.1,1773.9 L1537.4,1773.8 L1541.7,1773.7 L1546.0,1773.6 L1550.3,1773.5 L1554.6,1773.4 L1559.0,1773.3 L1563.3,1773.2 L1567.7,1773.1 L1572.0,1773.1 L1576.4,1773.0 L1580.8,1772.9 L1585.1,1772.8 L1589.5,1772.8 L1593.9,1772.7 L1598.3,1772.6 L1602.7,1772.5 L1607.1,1772.5 L1611.6,1772.4 L1616.0,1772.4 L1620.4,1772.3 L1624.9,1772.3 L1629.3,1772.2 L1633.8,1772.2" stroke-width="6.9" stroke-dasharray="26 18.3 3 18" stroke-dashoffset="3"/>
<path d="M296.7,2681.0 L296.7,2676.7 L296.7,2672.3 L296.7,2667.7 L296.8,2663.0 L296.8,2658.1 L296.8,2653.1 L296.9,2648.0 L296.9,2642.7 L297.0,2637.3 L297.1,2631.8 L297.2,2626.2 L297.2,2620.5 L297.3,2614.7 L297.4,2608.8 L297.5,2602.7 L297.7,2596.6 L297.8,2590.5 L297.9,2584.2 L298.0,2577.9 L298.2,2571.5 L298.3,2565.0 L298.5,2558.5 L298.7,2551.9 L298.8,2545.3 L299.0,2538.7 L299.2,2532.0 L299.4,2525.2 L299.6,2518.5 L299.8,2511.7 L300.1,2504.9 L300.3,2498.0 L300.5,2491.2 L300.8,2484.4 L301.0,2477.5 L301.3,2470.7 L301.5,2463.9 L301.8,2457.1 L302.1,2450.3 L302.4,2443.5 L302.7,2436.8 L303.0,2430.1 L303.3,2423.4 L303.6,2416.8 L303.9,2410.2 L304.2,2403.7 L304.6,2397.3 L304.9,2390.9 L305.3,2384.6 L305.6,2378.3 L306.0,2372.1 L306.4,2366.0 L306.8,2360.0 L307.2,2354.1 L307.6,2348.3 L308.0,2342.6 L308.4,2337.0 L308.8,2331.5 L309.2,2326.1 L309.7,2320.9 L310.1,2315.7 L310.6,2310.7 L311.0,2305.9 L311.5,2301.1 L312.0,2296.6 L312.4,2292.1 L312.9,2287.8 L313.4,2283.7 L313.9,2279.7 L314.4,2275.9 L315.0,2272.2 L315.5,2268.6 L316.0,2265.2 L316.6,2261.9 L317.1,2258.7 L317.7,2255.7 L318.2,2252.7 L318.8,2249.8 L319.4,2247.0 L320.0,2244.3 L320.6,2241.6 L321.2,2239.0 L321.8,2236.5 L322.4,2234.0 L323.0,2231.6 L323.6,2229.2 L324.3,2226.8 L324.9,2224.4 L325.6,2222.1 L326.2,2219.8 L326.9,2217.4 L327.6,2215.1 L328.2,2212.8 L328.9,2210.5 L329.6,2208.2 L330.3,2205.9 L331.0,2203.6 L331.8,2201.4 L332.5,2199.2 L333.2,2197.0 L334.0,2194.8 L334.7,2192.7 L335.5,2190.6 L336.2,2188.6 L337.0,2186.6 L337.8,2184.6 L338.6,2182.6 L339.4,2180.7 L340.2,2178.8 L341.0,2176.9 L341.8,2175.0 L342.6,2173.1 L343.4,2171.3 L344.3,2169.5 L345.1,2167.7 L346.0,2165.8 L346.8,2164.0 L347.7,2162.2 L348.6,2160.4 L349.5,2158.7 L350.4,2156.9 L351.3,2155.1 L352.2,2153.3 L353.1,2151.6 L354.0,2149.8 L354.9,2148.1 L355.9,2146.3 L356.8,2144.6 L357.8,2142.9 L358.7,2141.2 L359.7,2139.5 L360.7,2137.8 L361.6,2136.1 L362.6,2134.5 L363.6,2132.8 L364.6,2131.2 L365.6,2129.6 L366.6,2128.0 L367.7,2126.4 L368.7,2124.8 L369.7,2123.2 L370.8,2121.6 L371.8,2120.1 L372.9,2118.5 L374.0,2117.0 L375.1,2115.4 L376.1,2113.9 L377.2,2112.4 L378.3,2110.9 L379.4,2109.4 L380.5,2107.9 L381.7,2106.4 L382.8,2104.9 L383.9,2103.4 L385.1,2101.9 L386.2,2100.5 L387.4,2099.0 L388.6,2097.6 L389.7,2096.1 L390.9,2094.6 L392.1,2093.2 L393.3,2091.8 L394.5,2090.3 L395.7,2088.9 L396.9,2087.5 L398.2,2086.0 L399.4,2084.6 L400.6,2083.2 L401.9,2081.8 L403.1,2080.4 L404.4,2078.9 L405.7,2077.5 L406.9,2076.1 L408.2,2074.7 L409.5,2073.3 L410.8,2071.9 L412.1,2070.5 L413.4,2069.1 L414.8,2067.8 L416.1,2066.4 L417.4,2065.0 L418.8,2063.6 L420.1,2062.2 L421.5,2060.9 L422.9,2059.5 L424.2,2058.1 L425.6,2056.8 L427.0,2055.4 L428.4,2054.1 L429.8,2052.7 L431.2,2051.3 L432.6,2050.0 L434.1,2048.7 L435.5,2047.3 L437.0,2046.0 L438.4,2044.6 L439.9,2043.3 L441.3,2042.0 L442.8,2040.7 L444.3,2039.3 L445.8,2038.0 L447.3,2036.7 L448.8,2035.4 L450.3,2034.1 L451.8,2032.8 L453.3,2031.5 L454.8,2030.2 L456.4,2028.9 L457.9,2027.6 L459.5,2026.3 L461.0,2025.0 L462.6,2023.7 L464.2,2022.5 L465.8,2021.2 L467.4,2019.9 L469.0,2018.6 L470.6,2017.4 L472.2,2016.1 L473.8,2014.9 L475.4,2013.6 L477.1,2012.3 L478.7,2011.1 L480.4,2009.9 L482.0,2008.6 L483.7,2007.4 L485.4,2006.1 L487.0,2004.9 L488.7,2003.7 L490.4,2002.4 L492.1,2001.2 L493.8,2000.0 L495.6,1998.8 L497.3,1997.6 L499.0,1996.4 L500.8,1995.1 L502.5,1993.9 L504.3,1992.7 L506.0,1991.5 L507.8,1990.4 L509.6,1989.2 L511.4,1988.0 L513.1,1986.8 L514.9,1985.6 L516.8,1984.4 L518.6,1983.3 L520.4,1982.1 L522.2,1980.9 L524.1,1979.8 L525.9,1978.6 L527.8,1977.4 L529.6,1976.3 L531.5,1975.1 L533.4,1974.0 L535.2,1972.8 L537.1,1971.7 L539.0,1970.6 L540.9,1969.4 L542.8,1968.3 L544.8,1967.2 L546.7,1966.0 L548.6,1964.9 L550.6,1963.8 L552.5,1962.7 L554.5,1961.6 L556.4,1960.5 L558.4,1959.4 L560.4,1958.3 L562.4,1957.2 L564.4,1956.1 L566.4,1955.0 L568.4,1953.9 L570.4,1952.8 L572.4,1951.7 L574.4,1950.7 L576.5,1949.6 L578.5,1948.5 L580.6,1947.5 L582.6,1946.4 L584.7,1945.3 L586.8,1944.3 L588.9,1943.2 L591.0,1942.2 L593.1,1941.1 L595.2,1940.1 L597.3,1939.1 L599.4,1938.0 L601.5,1937.0 L603.7,1936.0 L605.8,1934.9 L607.9,1933.9 L610.1,1932.9 L612.3,1931.9 L614.4,1930.9 L616.6,1929.9 L618.8,1928.9 L621.0,1927.9 L623.2,1926.9 L625.4,1925.9 L627.6,1924.9 L629.9,1923.9 L632.1,1922.9 L634.3,1921.9 L636.6,1921.0 L638.8,1920.0 L641.1,1919.0 L643.4,1918.1 L645.6,1917.1 L647.9,1916.1 L650.2,1915.2 L652.5,1914.2 L654.8,1913.3 L657.1,1912.3 L659.5,1911.4 L661.8,1910.5 L664.1,1909.5 L666.5,1908.6 L668.8,1907.7 L671.2,1906.7 L673.5,1905.8 L675.9,1904.9 L678.3,1904.0 L680.7,1903.1 L683.1,1902.2 L685.5,1901.3 L687.9,1900.4 L690.3,1899.5 L692.7,1898.6 L695.2,1897.7 L697.6,1896.8 L700.1,1895.9 L702.5,1895.1 L705.0,1894.2 L707.5,1893.3 L709.9,1892.5 L712.4,1891.6 L714.9,1890.7 L717.4,1889.9 L719.9,1889.0 L722.4,1888.2 L725.0,1887.3 L727.5,1886.5 L730.0,1885.7 L732.6,1884.8 L735.1,1884.0 L737.7,1883.2 L740.3,1882.3 L742.8,1881.5 L745.4,1880.7 L748.0,1879.9 L750.6,1879.1 L753.2,1878.3 L755.8,1877.5 L758.4,1876.7 L761.1,1875.9 L763.7,1875.1 L766.3,1874.3 L769.0,1873.5 L771.6,1872.7 L774.3,1871.9 L777.0,1871.1 L779.7,1870.4 L782.4,1869.6 L785.0,1868.8 L787.7,1868.1 L790.5,1867.3 L793.2,1866.6 L795.9,1865.8 L798.6,1865.0 L801.4,1864.3 L804.1,1863.6 L806.9,1862.8 L809.6,1862.1 L812.4,1861.3 L815.2,1860.6 L818.0,1859.9 L820.8,1859.2 L823.5,1858.4 L826.4,1857.7 L829.2,1857.0 L832.0,1856.3 L834.8,1855.6 L837.7,1854.9 L840.5,1854.2 L843.3,1853.5 L846.2,1852.8 L849.1,1852.1 L851.9,1851.4 L854.8,1850.7 L857.7,1850.1 L860.6,1849.4 L863.5,1848.7 L866.4,1848.0 L869.3,1847.4 L872.3,1846.7 L875.2,1846.0 L878.1,1845.4 L881.1,1844.7 L884.0,1844.1 L887.0,1843.4 L890.0,1842.8 L893.0,1842.1 L895.9,1841.5 L898.9,1840.9 L901.9,1840.2 L904.9,1839.6 L908.0,1839.0 L911.0,1838.4 L914.0,1837.7 L917.0,1837.1 L920.1,1836.5 L923.1,1835.9 L926.2,1835.3 L929.3,1834.7 L932.3,1834.1 L935.4,1833.5 L938.5,1832.9 L941.6,1832.3 L944.7,1831.7 L947.8,1831.1 L950.9,1830.6 L954.1,1830.0 L957.2,1829.4 L960.3,1828.8 L963.5,1828.3 L966.6,1827.7 L969.8,1827.1 L973.0,1826.6 L976.2,1826.0 L979.3,1825.5 L982.5,1824.9 L985.7,1824.4 L989.0,1823.8 L992.2,1823.3 L995.4,1822.7 L998.6,1822.2 L1001.9,1821.7 L1005.1,1821.1 L1008.4,1820.6 L1011.6,1820.1 L1014.9,1819.6 L1018.2,1819.0 L1021.4,1818.5 L1024.7,1818.0 L1028.0,1817.5 L1031.3,1817.0 L1034.7,1816.5 L1038.0,1816.0 L1041.3,1815.5 L1044.6,1815.0 L1048.0,1814.5 L1051.3,1814.0 L1054.7,1813.6 L1058.1,1813.1 L1061.4,1812.6 L1064.8,1812.1 L1068.2,1811.6 L1071.6,1811.2 L1075.0,1810.7 L1078.4,1810.2 L1081.8,1809.8 L1085.2,1809.3 L1088.7,1808.9 L1092.1,1808.4 L1095.6,1808.0 L1099.0,1807.5 L1102.5,1807.1 L1105.9,1806.6 L1109.4,1806.2 L1112.9,1805.8 L1116.4,1805.3 L1119.9,1804.9 L1123.4,1804.5 L1126.9,1804.1 L1130.4,1803.6 L1134.0,1803.2 L1137.5,1802.8 L1141.1,1802.4 L1144.6,1802.0 L1148.2,1801.6 L1151.7,1801.2 L1155.3,1800.8 L1158.9,1800.4 L1162.5,1800.0 L1166.1,1799.6 L1169.7,1799.2 L1173.3,1798.8 L1176.9,1798.4 L1180.5,1798.1 L1184.2,1797.7 L1187.8,1797.3 L1191.5,1796.9 L1195.1,1796.6 L1198.8,1796.2 L1202.4,1795.8 L1206.1,1795.5 L1209.8,1795.1 L1213.5,1794.8 L1217.2,1794.4 L1220.9,1794.1 L1224.6,1793.7 L1228.3,1793.4 L1232.1,1793.0 L1235.8,1792.7 L1239.6,1792.4 L1243.3,1792.0 L1247.1,1791.7 L1250.8,1791.4 L1254.6,1791.1 L1258.4,1790.7 L1262.2,1790.4 L1266.0,1790.1 L1269.8,1789.8 L1273.6,1789.5 L1277.4,1789.2 L1281.2,1788.9 L1285.1,1788.6 L1288.9,1788.3 L1292.8,1788.0 L1296.6,1787.7 L1300.5,1787.4 L1304.4,1787.1 L1308.2,1786.8 L1312.1,1786.5 L1316.0,1786.2 L1319.9,1786.0 L1323.8,1785.7 L1327.8,1785.4 L1331.7,1785.1 L1335.6,1784.9 L1339.5,1784.6 L1343.5,1784.3 L1347.4,1784.1 L1351.4,1783.8 L1355.4,1783.6 L1359.4,1783.3 L1363.3,1783.1 L1367.3,1782.8 L1371.3,1782.6 L1375.3,1782.3 L1379.3,1782.1 L1383.4,1781.9 L1387.4,1781.6 L1391.4,1781.4 L1395.5,1781.2 L1399.5,1780.9 L1403.6,1780.7 L1407.7,1780.5 L1411.7,1780.3 L1415.8,1780.1 L1419.9,1779.8 L1424.0,1779.6 L1428.1,1779.4 L1432.2,1779.2 L1436.3,1779.0 L1440.4,1778.8 L1444.6,1778.6 L1448.7,1778.4 L1452.9,1778.2 L1457.0,1778.0 L1461.2,1777.8 L1465.4,1777.7 L1469.5,1777.5 L1473.7,1777.3 L1477.9,1777.1 L1482.1,1776.9 L1486.3,1776.8 L1490.5,1776.6 L1494.8,1776.4 L1499.0,1776.3 L1503.2,1776.1 L1507.5,1775.9 L1511.7,1775.8 L1516.0,1775.6 L1520.2,1775.5 L1524.5,1775.3 L1528.8,1775.2 L1533.1,1775.0 L1537.4,1774.9 L1541.7,1774.7 L1546.0,1774.6 L1550.3,1774.5 L1554.6,1774.3 L1559.0,1774.2 L1563.3,1774.1 L1567.7,1773.9 L1572.0,1773.8 L1576.4,1773.7 L1580.8,1773.6 L1585.1,1773.5 L1589.5,1773.3 L1593.9,1773.2 L1598.3,1773.1 L1602.7,1773.0 L1607.1,1772.9 L1611.6,1772.8 L1616.0,1772.7 L1620.4,1772.6 L1624.9,1772.5 L1629.3,1772.4 L1633.8,1772.3" stroke-width="7.0" stroke-dasharray="3.8 27" stroke-dashoffset="4"/>
<path d="M296.7,2681.0 L296.7,2678.0 L296.7,2674.9 L296.7,2671.5 L296.8,2668.0 L296.8,2664.2 L296.8,2660.3 L296.9,2656.2 L296.9,2652.0 L297.0,2647.6 L297.1,2643.0 L297.2,2638.3 L297.2,2633.5 L297.3,2628.6 L297.4,2623.5 L297.5,2618.3 L297.7,2613.1 L297.8,2607.7 L297.9,2602.2 L298.0,2596.7 L298.2,2591.1 L298.3,2585.4 L298.5,2579.7 L298.7,2573.9 L298.8,2568.1 L299.0,2562.2 L299.2,2556.3 L299.4,2550.4 L299.6,2544.5 L299.8,2538.5 L300.1,2532.6 L300.3,2526.7 L300.5,2520.8 L300.8,2514.9 L301.0,2509.1 L301.3,2503.3 L301.5,2497.5 L301.8,2491.8 L302.1,2486.2 L302.4,2480.6 L302.7,2475.1 L303.0,2469.7 L303.3,2464.4 L303.6,2459.2 L303.9,2454.0 L304.2,2449.0 L304.6,2444.2 L304.9,2439.4 L305.3,2434.8 L305.6,2430.3 L306.0,2426.0 L306.4,2421.9 L306.8,2417.8 L307.2,2414.0 L307.6,2410.2 L308.0,2406.5 L308.4,2403.0 L308.8,2399.5 L309.2,2396.1 L309.7,2392.5 L310.1,2388.7 L310.6,2384.5 L311.0,2379.9 L311.5,2374.8 L312.0,2369.0 L312.4,2362.9 L312.9,2356.8 L313.4,2351.2 L313.9,2346.2 L314.4,2341.8 L315.0,2338.0 L315.5,2334.4 L316.0,2331.0 L316.6,2327.7 L317.1,2324.1 L317.7,2320.2 L318.2,2316.2 L318.8,2312.0 L319.4,2307.8 L320.0,2303.7 L320.6,2299.8 L321.2,2296.0 L321.8,2292.5 L322.4,2289.2 L323.0,2286.1 L323.6,2283.2 L324.3,2280.4 L324.9,2277.7 L325.6,2275.1 L326.2,2272.6 L326.9,2270.1 L327.6,2267.7 L328.2,2265.3 L328.9,2262.9 L329.6,2260.4 L330.3,2258.0 L331.0,2255.5 L331.8,2253.0 L332.5,2250.5 L333.2,2248.0 L334.0,2245.5 L334.7,2242.9 L335.5,2240.4 L336.2,2237.8 L337.0,2235.3 L337.8,2232.8 L338.6,2230.2 L339.4,2227.7 L340.2,2225.2 L341.0,2222.8 L341.8,2220.3 L342.6,2217.9 L343.4,2215.5 L344.3,2213.1 L345.1,2210.8 L346.0,2208.5 L346.8,2206.3 L347.7,2204.0 L348.6,2201.8 L349.5,2199.6 L350.4,2197.5 L351.3,2195.3 L352.2,2193.2 L353.1,2191.1 L354.0,2189.1 L354.9,2187.0 L355.9,2184.9 L356.8,2182.9 L357.8,2180.9 L358.7,2178.9 L359.7,2176.8 L360.7,2174.8 L361.6,2172.8 L362.6,2170.8 L363.6,2168.8 L364.6,2166.8 L365.6,2164.8 L366.6,2162.8 L367.7,2160.8 L368.7,2158.9 L369.7,2156.9 L370.8,2154.9 L371.8,2152.9 L372.9,2150.9 L374.0,2148.9 L375.1,2147.0 L376.1,2145.0 L377.2,2143.0 L378.3,2141.1 L379.4,2139.2 L380.5,2137.3 L381.7,2135.3 L382.8,2133.5 L383.9,2131.6 L385.1,2129.7 L386.2,2127.9 L387.4,2126.0 L388.6,2124.2 L389.7,2122.4 L390.9,2120.7 L392.1,2118.9 L393.3,2117.2 L394.5,2115.5 L395.7,2113.8 L396.9,2112.2 L398.2,2110.5 L399.4,2108.9 L400.6,2107.3 L401.9,2105.7 L403.1,2104.2 L404.4,2102.6 L405.7,2101.1 L406.9,2099.6 L408.2,2098.1 L409.5,2096.6 L410.8,2095.1 L412.1,2093.7 L413.4,2092.2 L414.8,2090.8 L416.1,2089.3 L417.4,2087.9 L418.8,2086.5 L420.1,2085.1 L421.5,2083.7 L422.9,2082.2 L424.2,2080.8 L425.6,2079.4 L427.0,2078.0 L428.4,2076.6 L429.8,2075.2 L431.2,2073.8 L432.6,2072.4 L434.1,2071.0 L435.5,2069.6 L437.0,2068.2 L438.4,2066.9 L439.9,2065.5 L441.3,2064.1 L442.8,2062.7 L444.3,2061.3 L445.8,2060.0 L447.3,2058.6 L448.8,2057.2 L450.3,2055.9 L451.8,2054.5 L453.3,2053.1 L454.8,2051.8 L456.4,2050.4 L457.9,2049.1 L459.5,2047.7 L461.0,2046.4 L462.6,2045.0 L464.2,2043.7 L465.8,2042.4 L467.4,2041.0 L469.0,2039.7 L470.6,2038.4 L472.2,2037.1 L473.8,2035.7 L475.4,2034.4 L477.1,2033.1 L478.7,2031.8 L480.4,2030.5 L482.0,2029.2 L483.7,2027.8 L485.4,2026.5 L487.0,2025.2 L488.7,2024.0 L490.4,2022.7 L492.1,2021.4 L493.8,2020.1 L495.6,2018.8 L497.3,2017.5 L499.0,2016.2 L500.8,2015.0 L502.5,2013.7 L504.3,2012.4 L506.0,2011.2 L507.8,2009.9 L509.6,2008.6 L511.4,2007.4 L513.1,2006.1 L514.9,2004.9 L516.8,2003.6 L518.6,2002.4 L520.4,2001.1 L522.2,1999.9 L524.1,1998.7 L525.9,1997.4 L527.8,1996.2 L529.6,1995.0 L531.5,1993.8 L533.4,1992.5 L535.2,1991.3 L537.1,1990.1 L539.0,1988.9 L540.9,1987.7 L542.8,1986.5 L544.8,1985.3 L546.7,1984.1 L548.6,1982.9 L550.6,1981.7 L552.5,1980.6 L554.5,1979.4 L556.4,1978.2 L558.4,1977.0 L560.4,1975.9 L562.4,1974.7 L564.4,1973.5 L566.4,1972.4 L568.4,1971.2 L570.4,1970.1 L572.4,1968.9 L574.4,1967.8 L576.5,1966.6 L578.5,1965.5 L580.6,1964.4 L582.6,1963.2 L584.7,1962.1 L586.8,1961.0 L588.9,1959.9 L591.0,1958.8 L593.1,1957.6 L595.2,1956.5 L597.3,1955.4 L599.4,1954.3 L601.5,1953.2 L603.7,1952.1 L605.8,1951.1 L607.9,1950.0 L610.1,1948.9 L612.3,1947.8 L614.4,1946.7 L616.6,1945.7 L618.8,1944.6 L621.0,1943.5 L623.2,1942.5 L625.4,1941.4 L627.6,1940.4 L629.9,1939.3 L632.1,1938.3 L634.3,1937.2 L636.6,1936.2 L638.8,1935.2 L641.1,1934.1 L643.4,1933.1 L645.6,1932.1 L647.9,1931.1 L650.2,1930.1 L652.5,1929.0 L654.8,1928.0 L657.1,1927.0 L659.5,1926.0 L661.8,1925.0 L664.1,1924.0 L666.5,1923.0 L668.8,1922.1 L671.2,1921.1 L673.5,1920.1 L675.9,1919.1 L678.3,1918.1 L680.7,1917.2 L683.1,1916.2 L685.5,1915.3 L687.9,1914.3 L690.3,1913.3 L692.7,1912.4 L695.2,1911.4 L697.6,1910.5 L700.1,1909.6 L702.5,1908.6 L705.0,1907.7 L707.5,1906.8 L709.9,1905.8 L712.4,1904.9 L714.9,1904.0 L717.4,1903.1 L719.9,1902.2 L722.4,1901.2 L725.0,1900.3 L727.5,1899.4 L730.0,1898.5 L732.6,1897.6 L735.1,1896.8 L737.7,1895.9 L740.3,1895.0 L742.8,1894.1 L745.4,1893.2 L748.0,1892.3 L750.6,1891.5 L753.2,1890.6 L755.8,1889.7 L758.4,1888.9 L761.1,1888.0 L763.7,1887.2 L766.3,1886.3 L769.0,1885.5 L771.6,1884.6 L774.3,1883.8 L777.0,1883.0 L779.7,1882.1 L782.4,1881.3 L785.0,1880.5 L787.7,1879.6 L790.5,1878.8 L793.2,1878.0 L795.9,1877.2 L798.6,1876.4 L801.4,1875.6 L804.1,1874.8 L806.9,1874.0 L809.6,1873.2 L812.4,1872.4 L815.2,1871.6 L818.0,1870.8 L820.8,1870.0 L823.5,1869.3 L826.4,1868.5 L829.2,1867.7 L832.0,1866.9 L834.8,1866.2 L837.7,1865.4 L840.5,1864.7 L843.3,1863.9 L846.2,1863.2 L849.1,1862.4 L851.9,1861.7 L854.8,1860.9 L857.7,1860.2 L860.6,1859.4 L863.5,1858.7 L866.4,1858.0 L869.3,1857.3 L872.3,1856.5 L875.2,1855.8 L878.1,1855.1 L881.1,1854.4 L884.0,1853.7 L887.0,1853.0 L890.0,1852.3 L893.0,1851.6 L895.9,1850.9 L898.9,1850.2 L901.9,1849.5 L904.9,1848.8 L908.0,1848.1 L911.0,1847.4 L914.0,1846.8 L917.0,1846.1 L920.1,1845.4 L923.1,1844.8 L926.2,1844.1 L929.3,1843.4 L932.3,1842.8 L935.4,1842.1 L938.5,1841.5 L941.6,1840.8 L944.7,1840.2 L947.8,1839.5 L950.9,1838.9 L954.1,1838.3 L957.2,1837.6 L960.3,1837.0 L963.5,1836.4 L966.6,1835.8 L969.8,1835.1 L973.0,1834.5 L976.2,1833.9 L979.3,1833.3 L982.5,1832.7 L985.7,1832.1 L989.0,1831.5 L992.2,1830.9 L995.4,1830.3 L998.6,1829.7 L1001.9,1829.1 L1005.1,1828.5 L1008.4,1828.0 L1011.6,1827.4 L1014.9,1826.8 L1018.2,1826.2 L1021.4,1825.7 L1024.7,1825.1 L1028.0,1824.5 L1031.3,1824.0 L1034.7,1823.4 L1038.0,1822.9 L1041.3,1822.3 L1044.6,1821.8 L1048.0,1821.2 L1051.3,1820.7 L1054.7,1820.2 L1058.1,1819.6 L1061.4,1819.1 L1064.8,1818.6 L1068.2,1818.0 L1071.6,1817.5 L1075.0,1817.0 L1078.4,1816.5 L1081.8,1816.0 L1085.2,1815.5 L1088.7,1815.0 L1092.1,1814.5 L1095.6,1814.0 L1099.0,1813.5 L1102.5,1813.0 L1105.9,1812.5 L1109.4,1812.0 L1112.9,1811.5 L1116.4,1811.0 L1119.9,1810.5 L1123.4,1810.1 L1126.9,1809.6 L1130.4,1809.1 L1134.0,1808.6 L1137.5,1808.2 L1141.1,1807.7 L1144.6,1807.3 L1148.2,1806.8 L1151.7,1806.4 L1155.3,1805.9 L1158.9,1805.5 L1162.5,1805.0 L1166.1,1804.6 L1169.7,1804.1 L1173.3,1803.7 L1176.9,1803.3 L1180.5,1802.8 L1184.2,1802.4 L1187.8,1802.0 L1191.5,1801.6 L1195.1,1801.2 L1198.8,1800.7 L1202.4,1800.3 L1206.1,1799.9 L1209.8,1799.5 L1213.5,1799.1 L1217.2,1798.7 L1220.9,1798.3 L1224.6,1797.9 L1228.3,1797.5 L1232.1,1797.1 L1235.8,1796.8 L1239.6,1796.4 L1243.3,1796.0 L1247.1,1795.6 L1250.8,1795.2 L1254.6,1794.9 L1258.4,1794.5 L1262.2,1794.1 L1266.0,1793.8 L1269.8,1793.4 L1273.6,1793.1 L1277.4,1792.7 L1281.2,1792.4 L1285.1,1792.0 L1288.9,1791.7 L1292.8,1791.3 L1296.6,1791.0 L1300.5,1790.6 L1304.4,1790.3 L1308.2,1790.0 L1312.1,1789.7 L1316.0,1789.3 L1319.9,1789.0 L1323.8,1788.7 L1327.8,1788.4 L1331.7,1788.1 L1335.6,1787.7 L1339.5,1787.4 L1343.5,1787.1 L1347.4,1786.8 L1351.4,1786.5 L1355.4,1786.2 L1359.4,1785.9 L1363.3,1785.6 L1367.3,1785.4 L1371.3,1785.1 L1375.3,1784.8 L1379.3,1784.5 L1383.4,1784.2 L1387.4,1783.9 L1391.4,1783.7 L1395.5,1783.4 L1399.5,1783.1 L1403.6,1782.9 L1407.7,1782.6 L1411.7,1782.4 L1415.8,1782.1 L1419.9,1781.8 L1424.0,1781.6 L1428.1,1781.3 L1432.2,1781.1 L1436.3,1780.9 L1440.4,1780.6 L1444.6,1780.4 L1448.7,1780.1 L1452.9,1779.9 L1457.0,1779.7 L1461.2,1779.5 L1465.4,1779.2 L1469.5,1779.0 L1473.7,1778.8 L1477.9,1778.6 L1482.1,1778.4 L1486.3,1778.2 L1490.5,1777.9 L1494.8,1777.7 L1499.0,1777.5 L1503.2,1777.3 L1507.5,1777.1 L1511.7,1776.9 L1516.0,1776.7 L1520.2,1776.6 L1524.5,1776.4 L1528.8,1776.2 L1533.1,1776.0 L1537.4,1775.8 L1541.7,1775.7 L1546.0,1775.5 L1550.3,1775.3 L1554.6,1775.1 L1559.0,1775.0 L1563.3,1774.8 L1567.7,1774.6 L1572.0,1774.5 L1576.4,1774.3 L1580.8,1774.2 L1585.1,1774.0 L1589.5,1773.9 L1593.9,1773.7 L1598.3,1773.6 L1602.7,1773.5 L1607.1,1773.3 L1611.6,1773.2 L1616.0,1773.0 L1620.4,1772.9 L1624.9,1772.8 L1629.3,1772.7 L1633.8,1772.5" stroke-width="6.9" stroke-dasharray="21.5 30" stroke-dashoffset="3"/>
</g>
<g clip-path="url(#clipC)" stroke="#000" fill="#000">
<rect x="284.4" y="2668.8" width="24.5" height="24.5" stroke="none"/>
<path d="M307.8,2600.6 V2521.9 M297.5,2600.6 h20.6 M297.5,2521.9 h20.6" stroke-width="4.9" stroke-linecap="round" fill="none"/>
<rect x="295.6" y="2549.0" width="24.5" height="24.5" stroke="none"/>
<path d="M319.0,2552.4 V2469.1 M308.7,2552.4 h20.6 M308.7,2469.1 h20.6" stroke-width="4.9" stroke-linecap="round" fill="none"/>
<rect x="306.7" y="2499.2" width="24.5" height="24.5" stroke="none"/>
<path d="M341.3,2512.8 V2418.5 M331.0,2512.8 h20.6 M331.0,2418.5 h20.6" stroke-width="4.9" stroke-linecap="round" fill="none"/>
<rect x="329.0" y="2452.9" width="24.5" height="24.5" stroke="none"/>
<path d="M385.8,2393.1 V2126.8 M375.5,2393.1 h20.6 M375.5,2126.8 h20.6" stroke-width="4.9" stroke-linecap="round" fill="none"/>
<rect x="373.6" y="2247.7" width="24.5" height="24.5" stroke="none"/>
<path d="M452.7,2302.0 V2044.9 M442.4,2302.0 h20.6 M442.4,2044.9 h20.6" stroke-width="4.9" stroke-linecap="round" fill="none"/>
<rect x="440.4" y="2160.9" width="24.5" height="24.5" stroke="none"/>
<path d="M530.7,2218.4 V1938.0 M520.4,2218.4 h20.6 M520.4,1938.0 h20.6" stroke-width="4.9" stroke-linecap="round" fill="none"/>
<rect x="518.4" y="2065.8" width="24.5" height="24.5" stroke="none"/>
<path d="M631.0,2218.4 V1913.6 M620.7,2218.4 h20.6 M620.7,1913.6 h20.6" stroke-width="4.9" stroke-linecap="round" fill="none"/>
<rect x="618.7" y="2053.8" width="24.5" height="24.5" stroke="none"/>
<path d="M787.0,2162.7 V1916.0 M776.7,2162.7 h20.6 M776.7,1916.0 h20.6" stroke-width="4.9" stroke-linecap="round" fill="none"/>
<rect x="774.7" y="2027.0" width="24.5" height="24.5" stroke="none"/>
<path d="M1121.2,2034.7 V1690.8 M1110.9,2034.7 h20.6 M1110.9,1690.8 h20.6" stroke-width="4.9" stroke-linecap="round" fill="none"/>
<rect x="1109.0" y="1850.5" width="24.5" height="24.5" stroke="none"/>
<path d="M1522.4,1925.1 V1635.6 M1512.1,1925.1 h20.6 M1512.1,1635.6 h20.6" stroke-width="4.9" stroke-linecap="round" fill="none"/>
<rect x="1510.1" y="1768.0" width="24.5" height="24.5" stroke="none"/>
</g>
<rect x="296.70" y="1609.60" width="1337.10" height="1071.40" fill="none" stroke="#000" stroke-width="4.9"/>
<path d="M630.97,2681.00 v-21 M965.25,2681.00 v-21 M1299.53,2681.00 v-21 M296.70,2413.15 h21 M296.70,2145.30 h21 M296.70,1877.45 h21" stroke="#000" stroke-width="4.9" fill="none"/>
<text x="190.60 223.60 238.70" y="2701.70" font-size="68.3">0.0</text>
<text x="190.60 223.60 238.70" y="2433.85" font-size="68.3">0.1</text>
<text x="190.60 223.60 238.70" y="2166.00" font-size="68.3">0.2</text>
<text x="190.60 223.60 238.70" y="1898.15" font-size="68.3">0.3</text>
<text x="190.60 223.60 238.70" y="1630.30" font-size="68.3">0.4</text>
<text x="279.51" y="2754.80" font-size="68.3" textLength="33.39" lengthAdjust="spacingAndGlyphs">0</text>
<text x="597.57" y="2754.80" font-size="68.3" textLength="66.95" lengthAdjust="spacingAndGlyphs">30</text>
<text x="930.99" y="2754.80" font-size="68.3" textLength="66.60" lengthAdjust="spacingAndGlyphs">60</text>
<text x="1267.60" y="2754.80" font-size="68.3" textLength="65.83" lengthAdjust="spacingAndGlyphs">90</text>
<text x="1586.66" y="2754.80" font-size="68.3" textLength="96.29" lengthAdjust="spacingAndGlyphs">120</text>
<text x="626.22" y="2866.80" font-size="73.3" textLength="677.71" lengthAdjust="spacingAndGlyphs">Immersion times (days)</text>
<text transform="translate(163.60,2452.07) rotate(-90)" x="0" y="0" font-size="73" textLength="613.08" lengthAdjust="spacingAndGlyphs">Water absorption (%)</text>
<text x="35.66" y="1561.30" font-size="89.5" textLength="122.48" lengthAdjust="spacingAndGlyphs">(C)</text>
<rect x="1646.00" y="1609.60" width="713.30" height="505.70" fill="#fff" stroke="#000" stroke-width="2.4"/>
<rect x="1716.8" y="1642.3" width="24.5" height="24.5" fill="#000"/>
<text x="1818.89" y="1676.20" font-size="66.4" textLength="532.81" lengthAdjust="spacingAndGlyphs">HT60<tspan dy="6.3">_</tspan><tspan dy="-6.3">tested results</tspan></text>
<path d="M1655.3,1744.0 H1802.5" stroke="#000" stroke-width="6.9" stroke-linecap="round" fill="none"/>
<text x="1823.33" y="1765.80" font-size="66.4" textLength="25.42" lengthAdjust="spacingAndGlyphs">1</text>
<text x="1847.45" y="1776.48" font-size="82.85">×</text>
<text x="1889.34" y="1765.80" font-size="66.4" font-style="italic" textLength="47.86" lengthAdjust="spacingAndGlyphs">D</text>
<text x="1937.05" y="1783.90" font-size="48.3" textLength="112.86" lengthAdjust="spacingAndGlyphs">GFRP</text>
<path d="M1655.3,1847.6 H1802.5" stroke="#000" stroke-width="6.9" stroke-linecap="round" fill="none" stroke-dasharray="21.5 30"/>
<text x="1820.41" y="1869.50" font-size="66.4" textLength="29.17" lengthAdjust="spacingAndGlyphs">3</text>
<text x="1847.45" y="1880.18" font-size="82.85">×</text>
<text x="1889.34" y="1869.50" font-size="66.4" font-style="italic" textLength="47.86" lengthAdjust="spacingAndGlyphs">D</text>
<text x="1937.05" y="1887.60" font-size="48.3" textLength="112.86" lengthAdjust="spacingAndGlyphs">GFRP</text>
<path d="M1655.3,1952.4 H1802.5" stroke="#000" stroke-width="7.0" stroke-linecap="round" fill="none" stroke-dasharray="3.8 27"/>
<text x="1818.96" y="1974.70" font-size="66.4" textLength="32.15" lengthAdjust="spacingAndGlyphs">5</text>
<text x="1847.45" y="1985.38" font-size="82.85">×</text>
<text x="1889.34" y="1974.70" font-size="66.4" font-style="italic" textLength="47.86" lengthAdjust="spacingAndGlyphs">D</text>
<text x="1937.05" y="1992.80" font-size="48.3" textLength="112.86" lengthAdjust="spacingAndGlyphs">GFRP</text>
<path d="M1655.3,2056.6 H1802.5" stroke="#000" stroke-width="6.9" stroke-linecap="round" fill="none" stroke-dasharray="26 18.3 3 18"/>
<text x="1822.25" y="2078.70" font-size="66.4" textLength="63.16" lengthAdjust="spacingAndGlyphs">10</text>
<text x="1880.75" y="2089.38" font-size="82.85">×</text>
<text x="1922.66" y="2078.70" font-size="66.4" font-style="italic" textLength="48.66" lengthAdjust="spacingAndGlyphs">D</text>
<text x="1970.04" y="2096.80" font-size="48.3" textLength="113.27" lengthAdjust="spacingAndGlyphs">GFRP</text>
</g>
</svg>
</body></html>
